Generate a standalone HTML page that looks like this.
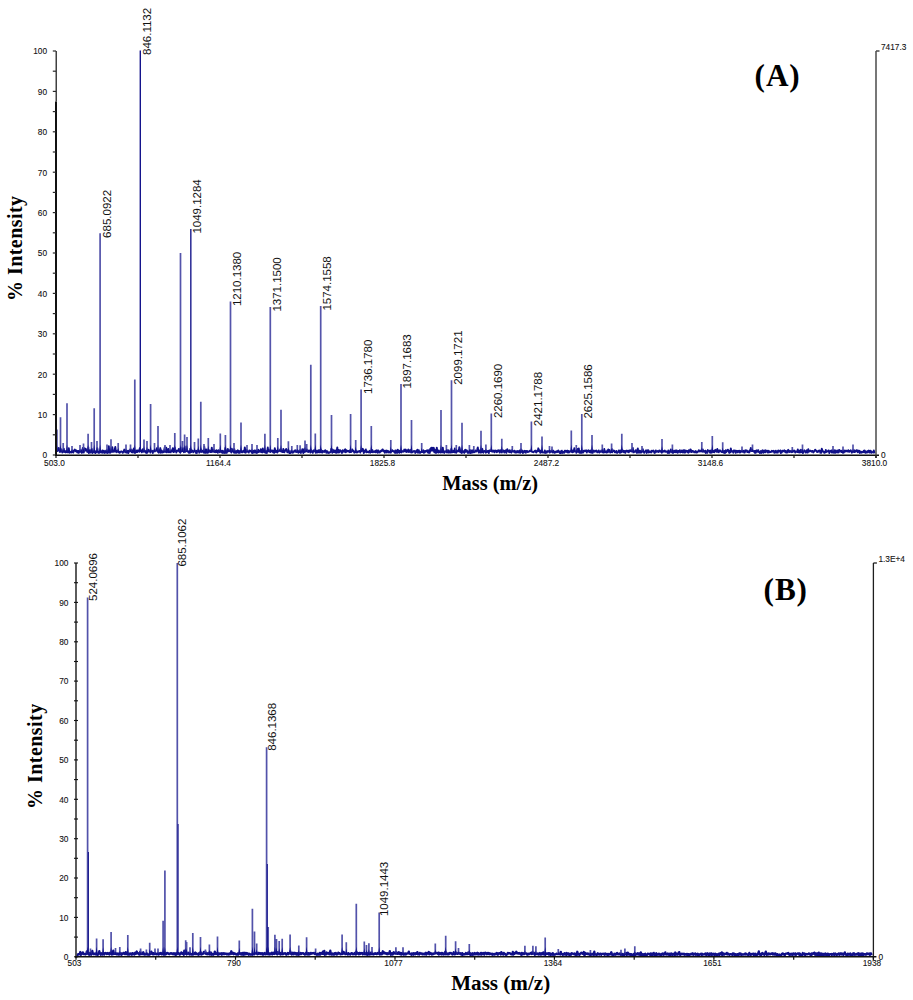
<!DOCTYPE html>
<html><head><meta charset="utf-8"><style>
html,body{margin:0;padding:0;background:#fff;}
body{width:913px;height:1000px;overflow:hidden;}
svg{display:block;}
.tk{font-family:"Liberation Sans",sans-serif;font-size:8.3px;fill:#111;stroke:#111;stroke-width:0.1px;}
.pl{font-family:"Liberation Sans",sans-serif;font-size:11.5px;fill:#111;}
.tt{font-family:"Liberation Serif",serif;font-size:31.2px;font-weight:bold;fill:#000;letter-spacing:0.9px;}
.ax{font-family:"Liberation Serif",serif;font-size:20px;font-weight:bold;fill:#000;}
</style></head><body>
<svg width="913" height="1000" viewBox="0 0 913 1000">
<rect width="913" height="1000" fill="#fff"/>
<path d="M56.80 451.11 L57.30 449.15 L57.80 448.45 L58.30 450.30 L58.80 447.91 L59.30 450.73 L59.80 451.96 L60.30 451.82 L60.80 448.93 L61.30 451.01 L61.80 450.53 L62.30 452.49 L62.80 451.83 L63.30 451.24 L63.80 448.65 L64.30 452.11 L64.80 451.08 L65.30 451.47 L65.80 452.42 L66.30 450.88 L66.80 451.67 L67.30 452.24 L67.80 450.48 L68.30 452.32 L68.80 448.23 L69.30 452.34 L69.80 452.65 L70.30 452.15 L70.80 451.82 L71.30 452.55 L71.80 451.53 L72.30 450.37 L72.80 452.01 L73.30 452.50 L73.80 451.28 L74.30 450.26 L74.80 449.46 L75.30 450.48 L75.80 451.29 L76.30 450.43 L76.80 451.74 L77.30 452.49 L77.80 450.98 L78.30 451.20 L78.80 452.88 L79.30 450.69 L79.80 450.85 L80.30 451.85 L80.80 450.21 L81.30 451.23 L81.80 452.87 L82.30 451.64 L82.80 447.94 L83.30 452.38 L83.80 452.43 L84.30 448.10 L84.80 448.64 L85.30 450.65 L85.80 448.82 L86.30 450.48 L86.80 450.27 L87.30 451.92 L87.80 450.91 L88.30 447.25 L88.80 452.98 L89.30 450.20 L89.80 451.16 L90.30 452.52 L90.80 450.26 L91.30 451.68 L91.80 448.87 L92.30 452.94 L92.80 452.15 L93.30 451.23 L93.80 452.36 L94.30 452.38 L94.80 450.82 L95.30 452.96 L95.80 452.46 L96.30 452.27 L96.80 451.65 L97.30 448.30 L97.80 450.93 L98.30 452.88 L98.80 452.82 L99.30 452.87 L99.80 450.82 L100.30 450.75 L100.80 451.95 L101.30 452.55 L101.80 452.03 L102.30 450.44 L102.80 452.75 L103.30 452.30 L103.80 450.70 L104.30 451.13 L104.80 452.92 L105.30 451.32 L105.80 452.23 L106.30 450.56 L106.80 452.73 L107.30 450.61 L107.80 452.94 L108.30 451.18 L108.80 446.17 L109.30 452.02 L109.80 452.81 L110.30 452.64 L110.80 450.79 L111.30 451.02 L111.80 451.84 L112.30 447.19 L112.80 451.19 L113.30 451.83 L113.80 451.38 L114.30 451.60 L114.80 449.13 L115.30 446.92 L115.80 450.68 L116.30 452.23 L116.80 451.11 L117.30 451.76 L117.80 450.50 L118.30 450.90 L118.80 452.36 L119.30 451.77 L119.80 452.75 L120.30 451.92 L120.80 451.63 L121.30 451.47 L121.80 451.54 L122.30 452.16 L122.80 452.84 L123.30 451.77 L123.80 451.13 L124.30 449.60 L124.80 450.40 L125.30 452.40 L125.80 450.63 L126.30 452.05 L126.80 452.67 L127.30 450.81 L127.80 451.32 L128.30 452.97 L128.80 450.65 L129.30 451.64 L129.80 450.75 L130.30 449.28 L130.80 449.27 L131.30 451.95 L131.80 450.38 L132.30 452.41 L132.80 450.49 L133.30 450.31 L133.80 448.48 L134.30 452.75 L134.80 450.92 L135.30 452.77 L135.80 450.96 L136.30 452.13 L136.80 450.40 L137.30 451.98 L137.80 450.43 L138.30 450.39 L138.80 451.47 L139.30 451.75 L139.80 448.11 L140.30 449.30 L140.80 450.34 L141.30 451.07 L141.80 452.33 L142.30 451.60 L142.80 449.30 L143.30 450.24 L143.80 451.74 L144.30 451.53 L144.80 450.50 L145.30 451.41 L145.80 452.54 L146.30 451.62 L146.80 452.95 L147.30 452.53 L147.80 451.98 L148.30 449.72 L148.80 450.40 L149.30 450.92 L149.80 450.44 L150.30 452.64 L150.80 450.99 L151.30 451.02 L151.80 450.64 L152.30 450.94 L152.80 452.92 L153.30 450.88 L153.80 451.07 L154.30 450.20 L154.80 451.53 L155.30 450.76 L155.80 450.21 L156.30 450.45 L156.80 448.25 L157.30 450.85 L157.80 451.68 L158.30 452.04 L158.80 452.66 L159.30 451.11 L159.80 450.62 L160.30 448.08 L160.80 452.70 L161.30 452.25 L161.80 450.59 L162.30 451.61 L162.80 452.45 L163.30 451.84 L163.80 452.11 L164.30 449.38 L164.80 447.28 L165.30 451.76 L165.80 451.95 L166.30 447.78 L166.80 452.30 L167.30 451.70 L167.80 450.38 L168.30 448.98 L168.80 452.24 L169.30 452.27 L169.80 451.58 L170.30 451.54 L170.80 452.35 L171.30 450.48 L171.80 450.91 L172.30 451.05 L172.80 448.29 L173.30 452.08 L173.80 452.09 L174.30 451.65 L174.80 447.38 L175.30 450.76 L175.80 450.22 L176.30 452.50 L176.80 451.46 L177.30 450.79 L177.80 450.79 L178.30 450.60 L178.80 449.00 L179.30 451.62 L179.80 452.17 L180.30 452.71 L180.80 447.55 L181.30 451.46 L181.80 450.59 L182.30 451.09 L182.80 450.20 L183.30 448.31 L183.80 452.20 L184.30 451.01 L184.80 451.30 L185.30 451.85 L185.80 451.40 L186.30 446.41 L186.80 451.00 L187.30 450.90 L187.80 451.63 L188.30 451.25 L188.80 452.68 L189.30 451.97 L189.80 452.83 L190.30 448.65 L190.80 451.46 L191.30 452.00 L191.80 450.34 L192.30 450.56 L192.80 451.16 L193.30 452.27 L193.80 450.93 L194.30 451.04 L194.80 451.30 L195.30 450.65 L195.80 452.74 L196.30 450.82 L196.80 452.99 L197.30 450.59 L197.80 450.45 L198.30 450.46 L198.80 450.92 L199.30 452.68 L199.80 451.36 L200.30 451.67 L200.80 449.18 L201.30 450.15 L201.80 451.96 L202.30 450.80 L202.80 450.90 L203.30 451.45 L203.80 452.58 L204.30 446.78 L204.80 452.71 L205.30 449.47 L205.80 452.80 L206.30 452.60 L206.80 449.36 L207.30 451.66 L207.80 452.84 L208.30 452.01 L208.80 451.48 L209.30 450.31 L209.80 450.85 L210.30 452.01 L210.80 450.56 L211.30 451.98 L211.80 447.68 L212.30 451.83 L212.80 450.83 L213.30 450.23 L213.80 451.49 L214.30 452.00 L214.80 451.53 L215.30 450.89 L215.80 452.17 L216.30 450.26 L216.80 452.09 L217.30 450.92 L217.80 452.79 L218.30 450.30 L218.80 451.38 L219.30 450.75 L219.80 452.27 L220.30 450.77 L220.80 451.07 L221.30 450.85 L221.80 452.33 L222.30 452.87 L222.80 450.72 L223.30 451.37 L223.80 452.86 L224.30 451.30 L224.80 452.93 L225.30 447.97 L225.80 452.71 L226.30 452.25 L226.80 452.81 L227.30 450.72 L227.80 448.96 L228.30 451.26 L228.80 451.13 L229.30 450.21 L229.80 451.18 L230.30 450.55 L230.80 450.78 L231.30 452.50 L231.80 448.75 L232.30 451.24 L232.80 450.74 L233.30 450.27 L233.80 452.47 L234.30 449.09 L234.80 452.78 L235.30 452.29 L235.80 451.15 L236.30 452.88 L236.80 450.93 L237.30 451.09 L237.80 450.21 L238.30 452.77 L238.80 451.02 L239.30 451.53 L239.80 452.87 L240.30 450.90 L240.80 451.58 L241.30 450.71 L241.80 452.27 L242.30 452.36 L242.80 451.12 L243.30 451.21 L243.80 450.42 L244.30 452.31 L244.80 447.45 L245.30 451.11 L245.80 452.67 L246.30 449.60 L246.80 451.60 L247.30 451.45 L247.80 451.37 L248.30 452.09 L248.80 452.57 L249.30 450.54 L249.80 451.02 L250.30 451.24 L250.80 450.76 L251.30 450.89 L251.80 452.68 L252.30 451.11 L252.80 452.98 L253.30 450.85 L253.80 452.03 L254.30 450.49 L254.80 452.49 L255.30 450.73 L255.80 450.53 L256.30 452.92 L256.80 452.80 L257.30 452.63 L257.80 450.93 L258.30 449.76 L258.80 451.94 L259.30 451.23 L259.80 450.77 L260.30 451.88 L260.80 449.09 L261.30 452.10 L261.80 451.07 L262.30 452.43 L262.80 448.51 L263.30 451.74 L263.80 450.46 L264.30 452.15 L264.80 450.99 L265.30 452.87 L265.80 451.79 L266.30 451.37 L266.80 452.99 L267.30 450.75 L267.80 447.54 L268.30 451.39 L268.80 451.34 L269.30 451.49 L269.80 450.24 L270.30 451.99 L270.80 450.45 L271.30 451.24 L271.80 450.61 L272.30 451.66 L272.80 450.50 L273.30 452.45 L273.80 450.75 L274.30 452.84 L274.80 448.25 L275.30 451.29 L275.80 451.94 L276.30 450.65 L276.80 450.82 L277.30 452.57 L277.80 450.71 L278.30 451.32 L278.80 451.27 L279.30 450.89 L279.80 450.39 L280.30 449.26 L280.80 450.53 L281.30 451.74 L281.80 451.06 L282.30 451.83 L282.80 452.04 L283.30 448.96 L283.80 451.57 L284.30 452.34 L284.80 451.48 L285.30 450.38 L285.80 449.41 L286.30 449.11 L286.80 450.43 L287.30 452.38 L287.80 450.35 L288.30 451.26 L288.80 450.58 L289.30 452.99 L289.80 452.48 L290.30 452.95 L290.80 452.88 L291.30 450.66 L291.80 451.06 L292.30 452.32 L292.80 452.71 L293.30 452.48 L293.80 451.61 L294.30 450.78 L294.80 451.62 L295.30 450.30 L295.80 450.65 L296.30 452.10 L296.80 450.67 L297.30 450.52 L297.80 451.98 L298.30 452.64 L298.80 451.82 L299.30 450.49 L299.80 451.96 L300.30 452.43 L300.80 452.97 L301.30 451.21 L301.80 451.44 L302.30 449.27 L302.80 450.91 L303.30 452.96 L303.80 452.06 L304.30 449.00 L304.80 451.92 L305.30 451.64 L305.80 450.57 L306.30 451.22 L306.80 449.43 L307.30 450.83 L307.80 451.85 L308.30 451.95 L308.80 450.58 L309.30 450.88 L309.80 450.47 L310.30 452.64 L310.80 451.33 L311.30 450.23 L311.80 451.77 L312.30 452.01 L312.80 452.82 L313.30 450.90 L313.80 450.32 L314.30 451.34 L314.80 450.36 L315.30 450.23 L315.80 452.83 L316.30 450.76 L316.80 451.62 L317.30 452.48 L317.80 451.07 L318.30 450.34 L318.80 452.39 L319.30 450.22 L319.80 452.29 L320.30 452.28 L320.80 449.41 L321.30 450.31 L321.80 452.30 L322.30 452.57 L322.80 450.94 L323.30 451.42 L323.80 451.67 L324.30 452.00 L324.80 450.81 L325.30 450.24 L325.80 450.86 L326.30 452.85 L326.80 451.12 L327.30 451.12 L327.80 452.74 L328.30 452.14 L328.80 452.94 L329.30 452.55 L329.80 452.60 L330.30 452.23 L330.80 451.06 L331.30 448.68 L331.80 449.52 L332.30 452.80 L332.80 449.68 L333.30 452.14 L333.80 452.15 L334.30 450.38 L334.80 451.22 L335.30 452.49 L335.80 450.38 L336.30 452.76 L336.80 450.50 L337.30 447.42 L337.80 452.47 L338.30 452.51 L338.80 449.94 L339.30 452.32 L339.80 451.09 L340.30 450.26 L340.80 450.99 L341.30 451.23 L341.80 452.90 L342.30 452.58 L342.80 450.29 L343.30 451.42 L343.80 451.17 L344.30 451.71 L344.80 449.60 L345.30 449.33 L345.80 452.33 L346.30 450.21 L346.80 451.58 L347.30 450.72 L347.80 451.17 L348.30 450.93 L348.80 450.99 L349.30 452.16 L349.80 450.51 L350.30 450.43 L350.80 452.15 L351.30 451.96 L351.80 451.32 L352.30 449.49 L352.80 450.27 L353.30 450.94 L353.80 451.60 L354.30 452.68 L354.80 451.49 L355.30 452.31 L355.80 452.01 L356.30 451.11 L356.80 452.56 L357.30 452.28 L357.80 451.43 L358.30 451.82 L358.80 451.49 L359.30 450.87 L359.80 451.04 L360.30 452.56 L360.80 450.64 L361.30 451.11 L361.80 450.65 L362.30 450.73 L362.80 448.84 L363.30 450.48 L363.80 452.95 L364.30 452.25 L364.80 450.75 L365.30 450.50 L365.80 449.41 L366.30 452.41 L366.80 451.60 L367.30 451.50 L367.80 451.89 L368.30 452.27 L368.80 451.40 L369.30 452.30 L369.80 450.84 L370.30 452.66 L370.80 452.16 L371.30 452.10 L371.80 451.47 L372.30 450.03 L372.80 452.39 L373.30 451.96 L373.80 451.39 L374.30 451.94 L374.80 452.09 L375.30 450.71 L375.80 452.38 L376.30 451.57 L376.80 450.31 L377.30 450.65 L377.80 452.83 L378.30 450.48 L378.80 451.71 L379.30 451.63 L379.80 452.52 L380.30 451.35 L380.80 450.79 L381.30 451.30 L381.80 450.54 L382.30 449.65 L382.80 449.39 L383.30 451.38 L383.80 451.19 L384.30 450.83 L384.80 452.83 L385.30 450.81 L385.80 451.30 L386.30 450.56 L386.80 452.47 L387.30 451.51 L387.80 450.83 L388.30 451.19 L388.80 452.49 L389.30 451.51 L389.80 451.74 L390.30 452.53 L390.80 452.58 L391.30 451.25 L391.80 451.39 L392.30 450.21 L392.80 450.99 L393.30 451.05 L393.80 451.40 L394.30 452.05 L394.80 452.80 L395.30 450.36 L395.80 452.74 L396.30 450.59 L396.80 451.14 L397.30 452.86 L397.80 449.71 L398.30 450.85 L398.80 451.17 L399.30 452.73 L399.80 450.67 L400.30 451.90 L400.80 452.07 L401.30 452.41 L401.80 450.75 L402.30 451.69 L402.80 451.43 L403.30 451.75 L403.80 450.86 L404.30 449.52 L404.80 450.60 L405.30 451.59 L405.80 449.55 L406.30 451.51 L406.80 452.06 L407.30 451.25 L407.80 450.37 L408.30 449.54 L408.80 452.11 L409.30 451.13 L409.80 451.63 L410.30 449.97 L410.80 451.95 L411.30 452.61 L411.80 451.53 L412.30 452.36 L412.80 451.42 L413.30 451.75 L413.80 451.02 L414.30 451.33 L414.80 450.96 L415.30 452.93 L415.80 452.42 L416.30 451.09 L416.80 451.84 L417.30 449.64 L417.80 452.68 L418.30 450.34 L418.80 450.22 L419.30 452.78 L419.80 452.04 L420.30 452.75 L420.80 451.93 L421.30 452.15 L421.80 452.11 L422.30 452.07 L422.80 451.05 L423.30 450.30 L423.80 452.76 L424.30 451.23 L424.80 452.40 L425.30 450.92 L425.80 451.38 L426.30 451.41 L426.80 450.48 L427.30 450.31 L427.80 452.47 L428.30 452.77 L428.80 450.24 L429.30 451.86 L429.80 452.95 L430.30 448.81 L430.80 450.79 L431.30 447.60 L431.80 450.54 L432.30 450.45 L432.80 447.82 L433.30 450.88 L433.80 447.83 L434.30 452.20 L434.80 449.75 L435.30 452.19 L435.80 452.81 L436.30 452.90 L436.80 447.68 L437.30 450.85 L437.80 452.24 L438.30 452.61 L438.80 450.37 L439.30 451.81 L439.80 452.10 L440.30 452.43 L440.80 452.01 L441.30 451.37 L441.80 452.40 L442.30 452.40 L442.80 447.59 L443.30 452.17 L443.80 451.13 L444.30 452.94 L444.80 451.88 L445.30 451.40 L445.80 451.25 L446.30 451.88 L446.80 452.46 L447.30 450.20 L447.80 451.38 L448.30 452.48 L448.80 450.32 L449.30 452.47 L449.80 451.80 L450.30 452.58 L450.80 452.12 L451.30 448.88 L451.80 452.43 L452.30 452.30 L452.80 450.86 L453.30 452.10 L453.80 450.78 L454.30 452.30 L454.80 448.51 L455.30 452.36 L455.80 451.82 L456.30 452.68 L456.80 451.53 L457.30 450.73 L457.80 450.71 L458.30 451.22 L458.80 451.33 L459.30 447.12 L459.80 448.74 L460.30 452.40 L460.80 451.87 L461.30 450.76 L461.80 452.97 L462.30 451.56 L462.80 450.93 L463.30 451.39 L463.80 452.35 L464.30 452.90 L464.80 450.31 L465.30 449.77 L465.80 451.76 L466.30 451.48 L466.80 450.33 L467.30 451.31 L467.80 452.89 L468.30 451.78 L468.80 452.88 L469.30 451.30 L469.80 450.65 L470.30 452.98 L470.80 450.31 L471.30 451.19 L471.80 452.73 L472.30 450.33 L472.80 452.19 L473.30 451.77 L473.80 452.31 L474.30 452.10 L474.80 451.86 L475.30 450.50 L475.80 450.92 L476.30 451.55 L476.80 450.87 L477.30 449.36 L477.80 447.44 L478.30 450.82 L478.80 452.63 L479.30 450.59 L479.80 450.47 L480.30 452.56 L480.80 451.47 L481.30 452.50 L481.80 451.96 L482.30 448.82 L482.80 451.75 L483.30 452.64 L483.80 451.35 L484.30 450.96 L484.80 451.14 L485.30 451.57 L485.80 452.73 L486.30 450.56 L486.80 452.07 L487.30 451.54 L487.80 450.92 L488.30 451.22 L488.80 452.99 L489.30 450.47 L489.80 450.68 L490.30 451.02 L490.80 450.24 L491.30 451.15 L491.80 450.21 L492.30 451.67 L492.80 451.42 L493.30 450.81 L493.80 450.59 L494.30 452.36 L494.80 450.75 L495.30 450.44 L495.80 451.59 L496.30 450.78 L496.80 452.18 L497.30 451.83 L497.80 450.38 L498.30 451.34 L498.80 450.36 L499.30 451.14 L499.80 452.62 L500.30 450.24 L500.80 451.53 L501.30 450.95 L501.80 452.53 L502.30 450.66 L502.80 450.27 L503.30 451.45 L503.80 450.54 L504.30 452.49 L504.80 451.10 L505.30 451.27 L505.80 450.37 L506.30 452.87 L506.80 451.64 L507.30 449.17 L507.80 450.83 L508.30 450.49 L508.80 451.79 L509.30 452.16 L509.80 450.25 L510.30 451.81 L510.80 452.17 L511.30 452.63 L511.80 450.33 L512.30 451.58 L512.80 450.98 L513.30 451.34 L513.80 451.86 L514.30 450.61 L514.80 452.29 L515.30 452.51 L515.80 451.29 L516.30 452.55 L516.80 451.31 L517.30 452.38 L517.80 450.87 L518.30 451.42 L518.80 452.45 L519.30 452.48 L519.80 450.35 L520.30 452.88 L520.80 450.90 L521.30 451.97 L521.80 450.28 L522.30 450.82 L522.80 452.92 L523.30 452.82 L523.80 452.47 L524.30 450.83 L524.80 450.94 L525.30 450.97 L525.80 452.79 L526.30 450.90 L526.80 451.41 L527.30 451.01 L527.80 452.01 L528.30 451.86 L528.80 451.64 L529.30 451.51 L529.80 450.62 L530.30 450.57 L530.80 451.34 L531.30 450.88 L531.80 451.73 L532.30 451.91 L532.80 452.02 L533.30 452.19 L533.80 451.73 L534.30 451.51 L534.80 450.88 L535.30 451.63 L535.80 450.60 L536.30 452.61 L536.80 451.76 L537.30 451.00 L537.80 451.03 L538.30 448.31 L538.80 450.12 L539.30 451.43 L539.80 450.51 L540.30 452.89 L540.80 450.63 L541.30 451.19 L541.80 451.93 L542.30 452.50 L542.80 452.27 L543.30 452.33 L543.80 452.40 L544.30 452.76 L544.80 450.53 L545.30 451.84 L545.80 452.90 L546.30 451.37 L546.80 452.64 L547.30 451.26 L547.80 451.48 L548.30 451.02 L548.80 451.75 L549.30 451.10 L549.80 452.58 L550.30 451.44 L550.80 451.05 L551.30 451.81 L551.80 450.45 L552.30 451.11 L552.80 452.55 L553.30 450.77 L553.80 452.15 L554.30 451.78 L554.80 452.78 L555.30 451.71 L555.80 451.65 L556.30 452.12 L556.80 451.20 L557.30 451.18 L557.80 452.09 L558.30 450.48 L558.80 451.32 L559.30 451.81 L559.80 452.90 L560.30 451.43 L560.80 452.99 L561.30 451.68 L561.80 450.68 L562.30 452.94 L562.80 451.64 L563.30 452.70 L563.80 452.50 L564.30 452.69 L564.80 450.64 L565.30 451.63 L565.80 450.73 L566.30 451.96 L566.80 451.19 L567.30 450.62 L567.80 452.41 L568.30 450.99 L568.80 452.56 L569.30 452.07 L569.80 451.59 L570.30 450.94 L570.80 451.69 L571.30 451.81 L571.80 450.54 L572.30 452.33 L572.80 450.48 L573.30 451.66 L573.80 451.92 L574.30 448.26 L574.80 451.10 L575.30 451.19 L575.80 450.95 L576.30 452.73 L576.80 451.18 L577.30 448.91 L577.80 451.83 L578.30 451.43 L578.80 448.44 L579.30 452.59 L579.80 452.72 L580.30 451.05 L580.80 452.89 L581.30 452.86 L581.80 451.29 L582.30 450.82 L582.80 452.65 L583.30 452.42 L583.80 450.69 L584.30 450.72 L584.80 451.01 L585.30 450.52 L585.80 451.28 L586.30 450.38 L586.80 452.51 L587.30 450.89 L587.80 450.99 L588.30 450.30 L588.80 451.16 L589.30 452.18 L589.80 450.96 L590.30 450.56 L590.80 452.54 L591.30 450.65 L591.80 452.22 L592.30 452.88 L592.80 452.86 L593.30 450.84 L593.80 450.57 L594.30 450.93 L594.80 451.85 L595.30 450.89 L595.80 450.80 L596.30 450.54 L596.80 451.72 L597.30 452.36 L597.80 452.04 L598.30 451.07 L598.80 450.44 L599.30 452.58 L599.80 452.06 L600.30 451.77 L600.80 451.60 L601.30 450.38 L601.80 450.83 L602.30 452.21 L602.80 451.33 L603.30 452.37 L603.80 452.61 L604.30 449.05 L604.80 452.06 L605.30 451.36 L605.80 452.16 L606.30 452.57 L606.80 451.96 L607.30 450.52 L607.80 452.26 L608.30 449.47 L608.80 450.75 L609.30 450.11 L609.80 451.99 L610.30 452.55 L610.80 452.21 L611.30 451.42 L611.80 448.93 L612.30 452.37 L612.80 450.32 L613.30 450.89 L613.80 450.51 L614.30 450.79 L614.80 452.30 L615.30 452.15 L615.80 452.29 L616.30 450.99 L616.80 452.85 L617.30 452.80 L617.80 452.27 L618.30 451.96 L618.80 450.35 L619.30 451.40 L619.80 452.80 L620.30 450.36 L620.80 452.46 L621.30 451.73 L621.80 451.99 L622.30 449.65 L622.80 451.35 L623.30 451.07 L623.80 452.18 L624.30 450.87 L624.80 451.64 L625.30 452.82 L625.80 451.04 L626.30 450.60 L626.80 451.13 L627.30 451.74 L627.80 450.67 L628.30 451.88 L628.80 452.35 L629.30 450.52 L629.80 451.21 L630.30 450.37 L630.80 450.75 L631.30 451.45 L631.80 451.11 L632.30 451.22 L632.80 447.82 L633.30 452.30 L633.80 452.21 L634.30 451.78 L634.80 451.57 L635.30 450.73 L635.80 450.22 L636.30 452.00 L636.80 452.82 L637.30 450.90 L637.80 448.46 L638.30 452.55 L638.80 450.72 L639.30 452.57 L639.80 450.67 L640.30 452.53 L640.80 451.11 L641.30 452.51 L641.80 451.23 L642.30 451.23 L642.80 449.18 L643.30 451.96 L643.80 452.18 L644.30 452.85 L644.80 451.60 L645.30 451.04 L645.80 450.42 L646.30 450.66 L646.80 452.92 L647.30 450.31 L647.80 450.73 L648.30 450.21 L648.80 452.59 L649.30 451.39 L649.80 452.05 L650.30 451.38 L650.80 451.43 L651.30 452.51 L651.80 450.66 L652.30 451.44 L652.80 451.17 L653.30 450.44 L653.80 451.49 L654.30 452.74 L654.80 452.93 L655.30 451.94 L655.80 450.37 L656.30 451.91 L656.80 451.80 L657.30 451.55 L657.80 451.04 L658.30 451.78 L658.80 452.10 L659.30 450.44 L659.80 451.24 L660.30 451.37 L660.80 451.78 L661.30 450.52 L661.80 452.69 L662.30 450.51 L662.80 450.91 L663.30 451.69 L663.80 451.57 L664.30 450.83 L664.80 450.52 L665.30 451.85 L665.80 451.34 L666.30 451.43 L666.80 451.74 L667.30 452.32 L667.80 452.97 L668.30 450.49 L668.80 451.30 L669.30 452.89 L669.80 452.37 L670.30 451.38 L670.80 449.49 L671.30 450.80 L671.80 452.18 L672.30 452.69 L672.80 452.64 L673.30 452.77 L673.80 450.67 L674.30 451.16 L674.80 452.11 L675.30 450.54 L675.80 452.26 L676.30 450.45 L676.80 450.48 L677.30 452.45 L677.80 452.79 L678.30 450.91 L678.80 451.45 L679.30 451.83 L679.80 450.26 L680.30 452.44 L680.80 451.75 L681.30 452.12 L681.80 450.60 L682.30 451.71 L682.80 452.46 L683.30 450.24 L683.80 450.62 L684.30 452.64 L684.80 450.30 L685.30 452.49 L685.80 451.30 L686.30 450.64 L686.80 451.30 L687.30 451.91 L687.80 451.12 L688.30 452.70 L688.80 450.32 L689.30 451.21 L689.80 451.82 L690.30 449.47 L690.80 449.67 L691.30 452.16 L691.80 452.08 L692.30 450.97 L692.80 450.93 L693.30 451.68 L693.80 451.30 L694.30 452.36 L694.80 452.37 L695.30 451.98 L695.80 450.99 L696.30 452.64 L696.80 452.11 L697.30 452.34 L697.80 451.62 L698.30 451.18 L698.80 450.13 L699.30 451.10 L699.80 451.55 L700.30 450.88 L700.80 451.18 L701.30 450.22 L701.80 451.47 L702.30 451.79 L702.80 449.54 L703.30 451.06 L703.80 451.74 L704.30 451.15 L704.80 451.83 L705.30 450.70 L705.80 452.96 L706.30 452.37 L706.80 451.11 L707.30 452.72 L707.80 450.08 L708.30 450.95 L708.80 450.81 L709.30 450.76 L709.80 452.62 L710.30 450.75 L710.80 452.90 L711.30 450.42 L711.80 452.65 L712.30 450.58 L712.80 451.70 L713.30 451.99 L713.80 450.79 L714.30 452.30 L714.80 451.33 L715.30 449.78 L715.80 450.33 L716.30 451.14 L716.80 451.87 L717.30 449.05 L717.80 451.78 L718.30 450.36 L718.80 452.23 L719.30 450.46 L719.80 450.60 L720.30 450.45 L720.80 451.39 L721.30 451.85 L721.80 452.04 L722.30 451.13 L722.80 450.92 L723.30 452.34 L723.80 451.07 L724.30 452.94 L724.80 450.98 L725.30 452.83 L725.80 450.23 L726.30 452.04 L726.80 451.21 L727.30 450.84 L727.80 449.67 L728.30 450.37 L728.80 451.75 L729.30 452.83 L729.80 450.62 L730.30 452.27 L730.80 448.52 L731.30 450.88 L731.80 451.60 L732.30 451.16 L732.80 451.49 L733.30 452.73 L733.80 450.40 L734.30 451.33 L734.80 450.37 L735.30 451.35 L735.80 452.85 L736.30 450.83 L736.80 450.93 L737.30 450.85 L737.80 452.33 L738.30 451.04 L738.80 450.81 L739.30 450.64 L739.80 452.63 L740.30 452.30 L740.80 450.99 L741.30 451.56 L741.80 450.65 L742.30 451.87 L742.80 451.82 L743.30 450.79 L743.80 451.21 L744.30 452.62 L744.80 452.62 L745.30 450.30 L745.80 450.51 L746.30 450.62 L746.80 450.47 L747.30 452.11 L747.80 451.15 L748.30 452.21 L748.80 451.95 L749.30 452.42 L749.80 450.31 L750.30 450.85 L750.80 447.91 L751.30 451.09 L751.80 450.54 L752.30 450.58 L752.80 450.70 L753.30 450.61 L753.80 451.60 L754.30 451.19 L754.80 452.77 L755.30 450.80 L755.80 452.67 L756.30 450.96 L756.80 450.35 L757.30 451.62 L757.80 451.76 L758.30 450.23 L758.80 452.03 L759.30 451.74 L759.80 452.95 L760.30 452.21 L760.80 451.09 L761.30 452.92 L761.80 451.28 L762.30 450.60 L762.80 450.21 L763.30 452.79 L763.80 451.91 L764.30 450.87 L764.80 450.53 L765.30 452.40 L765.80 450.34 L766.30 451.11 L766.80 451.74 L767.30 450.85 L767.80 452.59 L768.30 451.86 L768.80 450.86 L769.30 452.28 L769.80 452.19 L770.30 451.67 L770.80 452.10 L771.30 451.96 L771.80 450.83 L772.30 450.94 L772.80 451.53 L773.30 451.66 L773.80 450.82 L774.30 452.80 L774.80 451.67 L775.30 452.48 L775.80 450.68 L776.30 451.49 L776.80 452.52 L777.30 451.33 L777.80 452.53 L778.30 450.54 L778.80 450.90 L779.30 451.20 L779.80 451.66 L780.30 450.45 L780.80 452.99 L781.30 451.46 L781.80 452.44 L782.30 450.62 L782.80 451.23 L783.30 450.87 L783.80 451.15 L784.30 450.25 L784.80 450.92 L785.30 452.21 L785.80 451.11 L786.30 452.54 L786.80 451.98 L787.30 450.76 L787.80 452.42 L788.30 449.81 L788.80 451.23 L789.30 451.03 L789.80 452.01 L790.30 451.19 L790.80 451.82 L791.30 450.74 L791.80 452.19 L792.30 452.06 L792.80 450.40 L793.30 451.26 L793.80 451.59 L794.30 450.57 L794.80 451.50 L795.30 452.55 L795.80 451.53 L796.30 451.43 L796.80 451.63 L797.30 452.08 L797.80 449.40 L798.30 451.75 L798.80 452.36 L799.30 450.82 L799.80 452.49 L800.30 450.45 L800.80 449.85 L801.30 452.19 L801.80 450.35 L802.30 451.37 L802.80 452.99 L803.30 452.64 L803.80 451.14 L804.30 450.22 L804.80 450.97 L805.30 451.08 L805.80 452.60 L806.30 451.63 L806.80 450.34 L807.30 452.63 L807.80 452.60 L808.30 449.14 L808.80 451.25 L809.30 451.57 L809.80 451.22 L810.30 450.76 L810.80 450.60 L811.30 451.69 L811.80 451.78 L812.30 450.97 L812.80 451.02 L813.30 452.45 L813.80 451.47 L814.30 451.45 L814.80 450.36 L815.30 449.68 L815.80 450.40 L816.30 450.70 L816.80 451.77 L817.30 451.60 L817.80 452.09 L818.30 450.79 L818.80 450.61 L819.30 450.78 L819.80 450.47 L820.30 452.86 L820.80 452.04 L821.30 452.74 L821.80 448.67 L822.30 450.32 L822.80 451.02 L823.30 451.83 L823.80 451.77 L824.30 452.75 L824.80 452.56 L825.30 452.44 L825.80 450.00 L826.30 451.99 L826.80 451.73 L827.30 451.50 L827.80 451.40 L828.30 450.52 L828.80 450.54 L829.30 452.99 L829.80 451.67 L830.30 451.17 L830.80 451.59 L831.30 450.46 L831.80 452.62 L832.30 451.71 L832.80 450.59 L833.30 452.70 L833.80 450.84 L834.30 450.29 L834.80 452.91 L835.30 452.84 L835.80 450.34 L836.30 451.46 L836.80 452.28 L837.30 452.41 L837.80 450.39 L838.30 450.47 L838.80 452.41 L839.30 449.91 L839.80 450.47 L840.30 450.57 L840.80 451.19 L841.30 452.06 L841.80 450.68 L842.30 451.13 L842.80 452.65 L843.30 450.62 L843.80 452.66 L844.30 451.59 L844.80 450.53 L845.30 450.66 L845.80 451.62 L846.30 450.75 L846.80 450.77 L847.30 450.87 L847.80 451.61 L848.30 450.24 L848.80 451.57 L849.30 451.80 L849.80 450.84 L850.30 450.63 L850.80 450.29 L851.30 451.65 L851.80 452.69 L852.30 451.82 L852.80 451.87 L853.30 451.17 L853.80 451.88 L854.30 450.32 L854.80 452.14 L855.30 451.16 L855.80 451.49 L856.30 450.23 L856.80 451.35 L857.30 450.45 L857.80 452.25 L858.30 450.62 L858.80 450.59 L859.30 450.82 L859.80 452.93 L860.30 452.42 L860.80 451.59 L861.30 452.74 L861.80 451.98 L862.30 451.95 L862.80 452.40 L863.30 452.21 L863.80 450.65 L864.30 452.08 L864.80 450.58 L865.30 452.82 L865.80 452.29 L866.30 452.45 L866.80 451.42 L867.30 452.40 L867.80 451.04 L868.30 451.69 L868.80 450.52 L869.30 452.40 L869.80 452.55 L870.30 450.75 L870.80 450.86 L871.30 452.74 L871.80 452.19 L872.30 452.39 L872.80 452.11 L873.30 452.51 L873.80 450.44 L874.30 452.54 L874.80 451.87" fill="none" stroke="#0f0f88" stroke-width="1.9" stroke-linejoin="round"/>
<path d="M100.10 451.60 V233.30 M230.50 451.60 V301.50 M270.30 451.60 V307.00 M320.70 451.60 V306.00 M361.10 451.60 V389.40 M401.00 451.60 V384.00 M451.50 451.60 V380.20 M491.30 451.60 V413.50 M531.40 451.60 V421.60 M581.80 451.60 V414.00 M56.90 451.60 V429.60 M60.50 451.60 V417.20 M63.20 451.60 V443.00 M67.00 451.60 V403.30 M72.00 451.60 V446.00 M80.00 451.60 V445.00 M83.50 451.60 V443.50 M88.10 451.60 V433.70 M91.50 451.60 V442.00 M94.20 451.60 V408.20 M97.00 451.60 V441.00 M107.00 451.60 V444.50 M111.00 451.60 V439.20 M118.20 451.60 V443.00 M126.00 451.60 V444.50 M130.50 451.60 V444.50 M134.80 451.60 V379.50 M144.00 451.60 V439.40 M147.00 451.60 V441.00 M150.60 451.60 V404.00 M154.50 451.60 V443.00 M158.00 451.60 V426.00 M165.00 451.60 V445.00 M170.00 451.60 V445.00 M174.80 451.60 V433.00 M180.50 451.60 V253.00 M182.50 451.60 V441.00 M184.60 451.60 V434.50 M187.00 451.60 V437.00 M194.50 451.60 V442.00 M198.30 451.60 V438.60 M200.80 451.60 V401.70 M204.00 451.60 V444.00 M208.30 451.60 V438.00 M214.00 451.60 V444.00 M220.30 451.60 V433.50 M225.40 451.60 V435.00 M234.00 451.60 V443.00 M241.00 451.60 V422.40 M247.00 451.60 V445.00 M252.00 451.60 V444.00 M257.00 451.60 V445.00 M264.90 451.60 V433.80 M277.80 451.60 V438.00 M281.00 451.60 V409.80 M288.40 451.60 V441.20 M291.80 451.60 V446.00 M297.30 451.60 V445.00 M300.10 451.60 V445.20 M305.00 451.60 V440.50 M306.70 451.60 V444.00 M310.80 451.60 V364.80 M315.30 451.60 V433.50 M331.50 451.60 V415.00 M350.60 451.60 V414.00 M355.70 451.60 V440.00 M371.30 451.60 V426.00 M390.80 451.60 V440.00 M411.50 451.60 V420.00 M421.70 451.60 V443.00 M441.00 451.60 V410.00 M446.40 451.60 V445.00 M456.30 451.60 V445.00 M462.00 451.60 V422.70 M469.40 451.60 V445.00 M473.80 451.60 V446.00 M481.00 451.60 V430.80 M485.90 451.60 V444.50 M501.80 451.60 V438.70 M512.30 451.60 V446.00 M521.00 451.60 V443.00 M542.00 451.60 V436.50 M549.50 451.60 V446.00 M552.00 451.60 V446.50 M571.30 451.60 V430.60 M576.30 451.60 V445.00 M592.00 451.60 V435.00 M602.30 451.60 V444.50 M611.60 451.60 V443.50 M621.80 451.60 V433.70 M632.00 451.60 V443.00 M642.00 451.60 V446.00 M662.00 451.60 V439.00 M672.40 451.60 V444.40 M701.80 451.60 V442.00 M712.30 451.60 V436.00 M722.70 451.60 V442.30 M742.00 451.60 V446.50 M752.50 451.60 V444.40 M792.30 451.60 V447.00 M802.50 451.60 V444.50 M833.00 451.60 V446.00 M843.00 451.60 V446.50 M853.00 451.60 V444.50" fill="none" stroke="#5454ab" stroke-width="1.7"/>
<path d="M140.30 451.60 V50.40" fill="none" stroke="#14148c" stroke-width="1.4"/>
<path d="M190.80 451.60 V229.00" fill="none" stroke="#35359a" stroke-width="1.6"/>
<path d="M99.00 452.10 L100.10 444.60 L101.20 452.10 Z M139.20 452.10 L140.30 444.60 L141.40 452.10 Z M189.70 452.10 L190.80 444.60 L191.90 452.10 Z M229.40 452.10 L230.50 444.60 L231.60 452.10 Z M269.20 452.10 L270.30 444.60 L271.40 452.10 Z M319.60 452.10 L320.70 444.60 L321.80 452.10 Z M360.00 452.10 L361.10 444.60 L362.20 452.10 Z M399.90 452.10 L401.00 444.60 L402.10 452.10 Z M450.40 452.10 L451.50 444.60 L452.60 452.10 Z M490.20 452.10 L491.30 444.60 L492.40 452.10 Z M530.30 452.10 L531.40 444.60 L532.50 452.10 Z M580.70 452.10 L581.80 444.60 L582.90 452.10 Z M55.80 452.10 L56.90 444.60 L58.00 452.10 Z M59.40 452.10 L60.50 444.60 L61.60 452.10 Z M62.10 452.10 L63.20 447.73 L64.30 452.10 Z M65.90 452.10 L67.00 444.60 L68.10 452.10 Z M70.90 452.10 L72.00 449.08 L73.10 452.10 Z M78.90 452.10 L80.00 448.63 L81.10 452.10 Z M82.40 452.10 L83.50 447.96 L84.60 452.10 Z M87.00 452.10 L88.10 444.60 L89.20 452.10 Z M90.40 452.10 L91.50 447.28 L92.60 452.10 Z M93.10 452.10 L94.20 444.60 L95.30 452.10 Z M95.90 452.10 L97.00 446.83 L98.10 452.10 Z M105.90 452.10 L107.00 448.41 L108.10 452.10 Z M109.90 452.10 L111.00 446.02 L112.10 452.10 Z M117.10 452.10 L118.20 447.73 L119.30 452.10 Z M124.90 452.10 L126.00 448.41 L127.10 452.10 Z M129.40 452.10 L130.50 448.41 L131.60 452.10 Z M133.70 452.10 L134.80 444.60 L135.90 452.10 Z M142.90 452.10 L144.00 446.11 L145.10 452.10 Z M145.90 452.10 L147.00 446.83 L148.10 452.10 Z M149.50 452.10 L150.60 444.60 L151.70 452.10 Z M153.40 452.10 L154.50 447.73 L155.60 452.10 Z M156.90 452.10 L158.00 444.60 L159.10 452.10 Z M163.90 452.10 L165.00 448.63 L166.10 452.10 Z M168.90 452.10 L170.00 448.63 L171.10 452.10 Z M173.70 452.10 L174.80 444.60 L175.90 452.10 Z M179.40 452.10 L180.50 444.60 L181.60 452.10 Z M181.40 452.10 L182.50 446.83 L183.60 452.10 Z M183.50 452.10 L184.60 444.60 L185.70 452.10 Z M185.90 452.10 L187.00 445.03 L188.10 452.10 Z M193.40 452.10 L194.50 447.28 L195.60 452.10 Z M197.20 452.10 L198.30 445.75 L199.40 452.10 Z M199.70 452.10 L200.80 444.60 L201.90 452.10 Z M202.90 452.10 L204.00 448.18 L205.10 452.10 Z M207.20 452.10 L208.30 445.48 L209.40 452.10 Z M212.90 452.10 L214.00 448.18 L215.10 452.10 Z M219.20 452.10 L220.30 444.60 L221.40 452.10 Z M224.30 452.10 L225.40 444.60 L226.50 452.10 Z M232.90 452.10 L234.00 447.73 L235.10 452.10 Z M239.90 452.10 L241.00 444.60 L242.10 452.10 Z M245.90 452.10 L247.00 448.63 L248.10 452.10 Z M250.90 452.10 L252.00 448.18 L253.10 452.10 Z M255.90 452.10 L257.00 448.63 L258.10 452.10 Z M263.80 452.10 L264.90 444.60 L266.00 452.10 Z M276.70 452.10 L277.80 445.48 L278.90 452.10 Z M279.90 452.10 L281.00 444.60 L282.10 452.10 Z M287.30 452.10 L288.40 446.92 L289.50 452.10 Z M290.70 452.10 L291.80 449.08 L292.90 452.10 Z M296.20 452.10 L297.30 448.63 L298.40 452.10 Z M299.00 452.10 L300.10 448.72 L301.20 452.10 Z M303.90 452.10 L305.00 446.61 L306.10 452.10 Z M305.60 452.10 L306.70 448.18 L307.80 452.10 Z M309.70 452.10 L310.80 444.60 L311.90 452.10 Z M314.20 452.10 L315.30 444.60 L316.40 452.10 Z M330.40 452.10 L331.50 444.60 L332.60 452.10 Z M349.50 452.10 L350.60 444.60 L351.70 452.10 Z M354.60 452.10 L355.70 446.38 L356.80 452.10 Z M370.20 452.10 L371.30 444.60 L372.40 452.10 Z M389.70 452.10 L390.80 446.38 L391.90 452.10 Z M410.40 452.10 L411.50 444.60 L412.60 452.10 Z M420.60 452.10 L421.70 447.73 L422.80 452.10 Z M439.90 452.10 L441.00 444.60 L442.10 452.10 Z M445.30 452.10 L446.40 448.63 L447.50 452.10 Z M455.20 452.10 L456.30 448.63 L457.40 452.10 Z M460.90 452.10 L462.00 444.60 L463.10 452.10 Z M468.30 452.10 L469.40 448.63 L470.50 452.10 Z M472.70 452.10 L473.80 449.08 L474.90 452.10 Z M479.90 452.10 L481.00 444.60 L482.10 452.10 Z M484.80 452.10 L485.90 448.41 L487.00 452.10 Z M500.70 452.10 L501.80 445.80 L502.90 452.10 Z M511.20 452.10 L512.30 449.08 L513.40 452.10 Z M519.90 452.10 L521.00 447.73 L522.10 452.10 Z M540.90 452.10 L542.00 444.81 L543.10 452.10 Z M548.40 452.10 L549.50 449.08 L550.60 452.10 Z M550.90 452.10 L552.00 449.31 L553.10 452.10 Z M570.20 452.10 L571.30 444.60 L572.40 452.10 Z M575.20 452.10 L576.30 448.63 L577.40 452.10 Z M590.90 452.10 L592.00 444.60 L593.10 452.10 Z M601.20 452.10 L602.30 448.41 L603.40 452.10 Z M610.50 452.10 L611.60 447.96 L612.70 452.10 Z M620.70 452.10 L621.80 444.60 L622.90 452.10 Z M630.90 452.10 L632.00 447.73 L633.10 452.10 Z M640.90 452.10 L642.00 449.08 L643.10 452.10 Z M660.90 452.10 L662.00 445.93 L663.10 452.10 Z M671.30 452.10 L672.40 448.36 L673.50 452.10 Z M700.70 452.10 L701.80 447.28 L702.90 452.10 Z M711.20 452.10 L712.30 444.60 L713.40 452.10 Z M721.60 452.10 L722.70 447.42 L723.80 452.10 Z M740.90 452.10 L742.00 449.31 L743.10 452.10 Z M751.40 452.10 L752.50 448.36 L753.60 452.10 Z M791.20 452.10 L792.30 449.53 L793.40 452.10 Z M801.40 452.10 L802.50 448.41 L803.60 452.10 Z M831.90 452.10 L833.00 449.08 L834.10 452.10 Z M841.90 452.10 L843.00 449.31 L844.10 452.10 Z M851.90 452.10 L853.00 448.41 L854.10 452.10 Z" fill="#0f0f88" stroke="none"/>
<line x1="56.2" y1="51.0" x2="56.2" y2="101.5" stroke="#111" stroke-width="1.2"/>
<line x1="56.0" y1="101.5" x2="56.0" y2="456.0" stroke="#111" stroke-width="2"/>
<line x1="55.0" y1="455.3" x2="879.0" y2="455.3" stroke="#111" stroke-width="1.50"/>
<line x1="876.00" y1="51.0" x2="876.00" y2="458.0" stroke="#4a4a4a" stroke-width="1.5"/>
<line x1="876.00" y1="51.0" x2="879.50" y2="51.0" stroke="#4a4a4a" stroke-width="1.5"/>
<line x1="52.8" y1="455.0" x2="56.0" y2="455.0" stroke="#2a2a2a" stroke-width="1.2"/>
<text x="47.0" y="458.3" class="tk" text-anchor="end">0</text>
<line x1="52.8" y1="434.8" x2="56.0" y2="434.8" stroke="#2a2a2a" stroke-width="1.2"/>
<line x1="52.8" y1="414.6" x2="56.0" y2="414.6" stroke="#2a2a2a" stroke-width="1.2"/>
<text x="47.0" y="417.9" class="tk" text-anchor="end">10</text>
<line x1="52.8" y1="394.4" x2="56.0" y2="394.4" stroke="#2a2a2a" stroke-width="1.2"/>
<line x1="52.8" y1="374.2" x2="56.0" y2="374.2" stroke="#2a2a2a" stroke-width="1.2"/>
<text x="47.0" y="377.5" class="tk" text-anchor="end">20</text>
<line x1="52.8" y1="354.0" x2="56.0" y2="354.0" stroke="#2a2a2a" stroke-width="1.2"/>
<line x1="52.8" y1="333.8" x2="56.0" y2="333.8" stroke="#2a2a2a" stroke-width="1.2"/>
<text x="47.0" y="337.1" class="tk" text-anchor="end">30</text>
<line x1="52.8" y1="313.6" x2="56.0" y2="313.6" stroke="#2a2a2a" stroke-width="1.2"/>
<line x1="52.8" y1="293.4" x2="56.0" y2="293.4" stroke="#2a2a2a" stroke-width="1.2"/>
<text x="47.0" y="296.7" class="tk" text-anchor="end">40</text>
<line x1="52.8" y1="273.2" x2="56.0" y2="273.2" stroke="#2a2a2a" stroke-width="1.2"/>
<line x1="52.8" y1="253.0" x2="56.0" y2="253.0" stroke="#2a2a2a" stroke-width="1.2"/>
<text x="47.0" y="256.3" class="tk" text-anchor="end">50</text>
<line x1="52.8" y1="232.8" x2="56.0" y2="232.8" stroke="#2a2a2a" stroke-width="1.2"/>
<line x1="52.8" y1="212.6" x2="56.0" y2="212.6" stroke="#2a2a2a" stroke-width="1.2"/>
<text x="47.0" y="215.9" class="tk" text-anchor="end">60</text>
<line x1="52.8" y1="192.4" x2="56.0" y2="192.4" stroke="#2a2a2a" stroke-width="1.2"/>
<line x1="52.8" y1="172.2" x2="56.0" y2="172.2" stroke="#2a2a2a" stroke-width="1.2"/>
<text x="47.0" y="175.5" class="tk" text-anchor="end">70</text>
<line x1="52.8" y1="152.0" x2="56.0" y2="152.0" stroke="#2a2a2a" stroke-width="1.2"/>
<line x1="52.8" y1="131.8" x2="56.0" y2="131.8" stroke="#2a2a2a" stroke-width="1.2"/>
<text x="47.0" y="135.1" class="tk" text-anchor="end">80</text>
<line x1="52.8" y1="111.6" x2="56.0" y2="111.6" stroke="#2a2a2a" stroke-width="1.2"/>
<line x1="52.8" y1="91.4" x2="56.0" y2="91.4" stroke="#2a2a2a" stroke-width="1.2"/>
<text x="47.0" y="94.7" class="tk" text-anchor="end">90</text>
<line x1="52.8" y1="71.2" x2="56.0" y2="71.2" stroke="#2a2a2a" stroke-width="1.2"/>
<line x1="52.8" y1="51.0" x2="56.0" y2="51.0" stroke="#2a2a2a" stroke-width="1.2"/>
<text x="47.0" y="54.3" class="tk" text-anchor="end">100</text>
<line x1="56.0" y1="455.0" x2="56.0" y2="458.0" stroke="#111" stroke-width="1.2"/>
<text x="54.5" y="466.0" class="tk" text-anchor="middle">503.0</text>
<line x1="138.0" y1="455.0" x2="138.0" y2="458.0" stroke="#111" stroke-width="1.2"/>
<line x1="220.0" y1="455.0" x2="220.0" y2="458.0" stroke="#111" stroke-width="1.2"/>
<text x="218.5" y="466.0" class="tk" text-anchor="middle">1164.4</text>
<line x1="302.0" y1="455.0" x2="302.0" y2="458.0" stroke="#111" stroke-width="1.2"/>
<line x1="384.0" y1="455.0" x2="384.0" y2="458.0" stroke="#111" stroke-width="1.2"/>
<text x="382.5" y="466.0" class="tk" text-anchor="middle">1825.8</text>
<line x1="466.0" y1="455.0" x2="466.0" y2="458.0" stroke="#111" stroke-width="1.2"/>
<line x1="548.0" y1="455.0" x2="548.0" y2="458.0" stroke="#111" stroke-width="1.2"/>
<text x="546.5" y="466.0" class="tk" text-anchor="middle">2487.2</text>
<line x1="630.0" y1="455.0" x2="630.0" y2="458.0" stroke="#111" stroke-width="1.2"/>
<line x1="712.0" y1="455.0" x2="712.0" y2="458.0" stroke="#111" stroke-width="1.2"/>
<text x="710.5" y="466.0" class="tk" text-anchor="middle">3148.6</text>
<line x1="794.0" y1="455.0" x2="794.0" y2="458.0" stroke="#111" stroke-width="1.2"/>
<line x1="876.0" y1="455.0" x2="876.0" y2="458.0" stroke="#111" stroke-width="1.2"/>
<text x="874.5" y="466.0" class="tk" text-anchor="middle">3810.0</text>
<text x="881.0" y="50.0" class="tk">7417.3</text>
<text x="881.0" y="458.0" class="tk">0</text>
<text class="pl" transform="translate(110.5 237.9) rotate(-90)">685.0922</text>
<text class="pl" transform="translate(150.7 55.0) rotate(-90)">846.1132</text>
<text class="pl" transform="translate(201.2 233.6) rotate(-90)">1049.1284</text>
<text class="pl" transform="translate(240.9 306.1) rotate(-90)">1210.1380</text>
<text class="pl" transform="translate(280.7 311.6) rotate(-90)">1371.1500</text>
<text class="pl" transform="translate(331.1 310.6) rotate(-90)">1574.1558</text>
<text class="pl" transform="translate(371.5 394.0) rotate(-90)">1736.1780</text>
<text class="pl" transform="translate(411.4 388.6) rotate(-90)">1897.1683</text>
<text class="pl" transform="translate(461.9 384.8) rotate(-90)">2099.1721</text>
<text class="pl" transform="translate(501.7 418.1) rotate(-90)">2260.1690</text>
<text class="pl" transform="translate(541.8 426.2) rotate(-90)">2421.1788</text>
<text class="pl" transform="translate(592.2 418.6) rotate(-90)">2625.1586</text>
<text class="tt" transform="translate(754.6 85.8) scale(1.000 1)">(A)</text>
<text class="ax" style="letter-spacing:0.45px" transform="translate(21.8 301.0) rotate(-90)">% Intensity</text>
<text class="ax" transform="translate(442.3 490.3) scale(1.020 1)">Mass (m/z)</text>
<path d="M76.80 954.49 L77.30 954.97 L77.80 954.48 L78.30 954.09 L78.80 954.54 L79.30 953.91 L79.80 953.87 L80.30 952.03 L80.80 954.76 L81.30 954.34 L81.80 953.64 L82.30 953.66 L82.80 952.34 L83.30 954.00 L83.80 954.05 L84.30 954.00 L84.80 953.91 L85.30 954.47 L85.80 954.26 L86.30 953.65 L86.80 951.53 L87.30 953.60 L87.80 953.57 L88.30 953.50 L88.80 954.62 L89.30 954.76 L89.80 952.95 L90.30 954.36 L90.80 952.97 L91.30 954.73 L91.80 953.04 L92.30 950.89 L92.80 953.16 L93.30 953.69 L93.80 954.26 L94.30 954.09 L94.80 953.64 L95.30 953.34 L95.80 954.41 L96.30 954.57 L96.80 953.59 L97.30 954.08 L97.80 954.78 L98.30 953.32 L98.80 953.46 L99.30 951.24 L99.80 953.29 L100.30 953.54 L100.80 954.72 L101.30 953.95 L101.80 953.17 L102.30 954.62 L102.80 953.30 L103.30 954.28 L103.80 953.19 L104.30 954.56 L104.80 953.64 L105.30 952.88 L105.80 953.28 L106.30 953.31 L106.80 953.99 L107.30 953.15 L107.80 952.94 L108.30 953.92 L108.80 954.03 L109.30 954.63 L109.80 952.83 L110.30 952.76 L110.80 953.54 L111.30 953.06 L111.80 954.58 L112.30 954.11 L112.80 953.97 L113.30 950.54 L113.80 954.20 L114.30 952.84 L114.80 953.76 L115.30 953.44 L115.80 952.95 L116.30 954.27 L116.80 954.27 L117.30 954.39 L117.80 953.50 L118.30 954.60 L118.80 953.63 L119.30 954.53 L119.80 954.05 L120.30 953.97 L120.80 952.96 L121.30 954.79 L121.80 954.26 L122.30 954.27 L122.80 953.68 L123.30 952.97 L123.80 952.86 L124.30 953.76 L124.80 954.20 L125.30 954.03 L125.80 952.14 L126.30 954.16 L126.80 953.14 L127.30 954.12 L127.80 954.58 L128.30 954.13 L128.80 953.66 L129.30 954.63 L129.80 953.57 L130.30 953.43 L130.80 953.79 L131.30 954.50 L131.80 954.70 L132.30 953.14 L132.80 953.35 L133.30 953.63 L133.80 953.79 L134.30 954.48 L134.80 953.05 L135.30 952.60 L135.80 953.94 L136.30 953.52 L136.80 951.53 L137.30 953.27 L137.80 952.89 L138.30 953.69 L138.80 954.11 L139.30 954.72 L139.80 953.20 L140.30 951.66 L140.80 954.23 L141.30 953.34 L141.80 954.19 L142.30 954.03 L142.80 953.59 L143.30 952.24 L143.80 954.24 L144.30 953.71 L144.80 954.62 L145.30 953.94 L145.80 954.39 L146.30 953.73 L146.80 953.21 L147.30 954.44 L147.80 954.24 L148.30 954.60 L148.80 954.75 L149.30 954.38 L149.80 954.62 L150.30 952.06 L150.80 953.90 L151.30 951.64 L151.80 952.93 L152.30 953.15 L152.80 954.38 L153.30 953.10 L153.80 954.25 L154.30 954.18 L154.80 953.79 L155.30 952.97 L155.80 953.85 L156.30 954.26 L156.80 953.85 L157.30 953.92 L157.80 953.56 L158.30 954.60 L158.80 954.50 L159.30 953.85 L159.80 953.20 L160.30 953.81 L160.80 952.86 L161.30 953.83 L161.80 954.40 L162.30 953.78 L162.80 952.93 L163.30 953.63 L163.80 954.65 L164.30 953.75 L164.80 953.67 L165.30 954.60 L165.80 953.43 L166.30 954.04 L166.80 953.06 L167.30 952.85 L167.80 953.25 L168.30 953.44 L168.80 954.04 L169.30 954.26 L169.80 953.82 L170.30 953.20 L170.80 953.67 L171.30 953.63 L171.80 953.12 L172.30 954.06 L172.80 953.86 L173.30 954.02 L173.80 953.27 L174.30 954.42 L174.80 953.43 L175.30 954.65 L175.80 954.80 L176.30 953.07 L176.80 954.25 L177.30 952.99 L177.80 953.64 L178.30 953.05 L178.80 953.19 L179.30 954.16 L179.80 954.74 L180.30 953.81 L180.80 953.81 L181.30 952.38 L181.80 952.87 L182.30 953.83 L182.80 953.09 L183.30 953.21 L183.80 954.78 L184.30 950.58 L184.80 953.72 L185.30 953.45 L185.80 953.83 L186.30 952.07 L186.80 954.49 L187.30 953.71 L187.80 953.61 L188.30 953.13 L188.80 952.83 L189.30 954.40 L189.80 954.52 L190.30 953.61 L190.80 953.81 L191.30 954.41 L191.80 954.62 L192.30 954.36 L192.80 953.61 L193.30 954.56 L193.80 954.33 L194.30 953.61 L194.80 952.94 L195.30 952.46 L195.80 954.08 L196.30 953.26 L196.80 954.13 L197.30 954.12 L197.80 953.87 L198.30 954.80 L198.80 954.20 L199.30 952.99 L199.80 954.28 L200.30 952.63 L200.80 952.47 L201.30 954.61 L201.80 953.82 L202.30 953.94 L202.80 954.08 L203.30 952.95 L203.80 951.95 L204.30 953.12 L204.80 953.14 L205.30 951.63 L205.80 953.64 L206.30 954.00 L206.80 953.37 L207.30 953.92 L207.80 954.23 L208.30 952.83 L208.80 952.89 L209.30 954.31 L209.80 954.60 L210.30 952.90 L210.80 952.37 L211.30 953.66 L211.80 954.75 L212.30 953.85 L212.80 954.25 L213.30 954.76 L213.80 954.01 L214.30 954.05 L214.80 951.60 L215.30 953.05 L215.80 954.14 L216.30 953.32 L216.80 953.64 L217.30 953.86 L217.80 954.71 L218.30 953.28 L218.80 954.59 L219.30 954.05 L219.80 953.34 L220.30 953.93 L220.80 954.07 L221.30 953.18 L221.80 954.76 L222.30 953.84 L222.80 953.34 L223.30 954.05 L223.80 953.12 L224.30 954.15 L224.80 954.06 L225.30 953.76 L225.80 953.49 L226.30 953.65 L226.80 954.42 L227.30 954.34 L227.80 953.65 L228.30 954.42 L228.80 954.11 L229.30 953.45 L229.80 954.29 L230.30 953.66 L230.80 952.99 L231.30 951.29 L231.80 953.77 L232.30 953.40 L232.80 952.95 L233.30 952.95 L233.80 954.25 L234.30 953.37 L234.80 953.52 L235.30 953.53 L235.80 954.22 L236.30 954.64 L236.80 954.63 L237.30 954.41 L237.80 953.44 L238.30 954.67 L238.80 953.30 L239.30 953.53 L239.80 953.59 L240.30 953.19 L240.80 954.39 L241.30 954.47 L241.80 953.15 L242.30 954.56 L242.80 952.84 L243.30 953.89 L243.80 954.73 L244.30 952.77 L244.80 953.62 L245.30 954.27 L245.80 952.97 L246.30 953.09 L246.80 954.10 L247.30 953.24 L247.80 953.84 L248.30 953.59 L248.80 954.74 L249.30 953.79 L249.80 954.24 L250.30 954.63 L250.80 954.45 L251.30 954.51 L251.80 954.47 L252.30 954.72 L252.80 953.85 L253.30 954.40 L253.80 953.64 L254.30 954.28 L254.80 953.55 L255.30 953.21 L255.80 953.38 L256.30 952.92 L256.80 953.03 L257.30 954.35 L257.80 952.92 L258.30 953.97 L258.80 952.87 L259.30 953.17 L259.80 953.27 L260.30 953.99 L260.80 953.17 L261.30 953.15 L261.80 953.42 L262.30 954.43 L262.80 953.32 L263.30 954.63 L263.80 953.89 L264.30 953.77 L264.80 952.90 L265.30 954.40 L265.80 953.86 L266.30 953.35 L266.80 954.12 L267.30 952.82 L267.80 953.54 L268.30 954.23 L268.80 953.11 L269.30 953.44 L269.80 954.54 L270.30 954.07 L270.80 953.33 L271.30 953.10 L271.80 952.80 L272.30 954.49 L272.80 952.96 L273.30 952.72 L273.80 953.74 L274.30 953.97 L274.80 953.41 L275.30 953.63 L275.80 952.98 L276.30 953.22 L276.80 953.85 L277.30 954.46 L277.80 952.24 L278.30 953.73 L278.80 953.52 L279.30 953.01 L279.80 953.72 L280.30 954.46 L280.80 952.82 L281.30 954.22 L281.80 953.93 L282.30 952.82 L282.80 954.40 L283.30 954.03 L283.80 953.55 L284.30 953.40 L284.80 953.58 L285.30 953.31 L285.80 954.26 L286.30 954.69 L286.80 954.25 L287.30 953.59 L287.80 952.99 L288.30 954.22 L288.80 953.60 L289.30 952.95 L289.80 953.11 L290.30 951.26 L290.80 953.65 L291.30 954.09 L291.80 954.44 L292.30 953.46 L292.80 952.83 L293.30 954.20 L293.80 954.38 L294.30 952.79 L294.80 953.48 L295.30 953.01 L295.80 953.82 L296.30 954.45 L296.80 953.12 L297.30 954.61 L297.80 953.51 L298.30 953.08 L298.80 954.77 L299.30 954.23 L299.80 953.19 L300.30 954.05 L300.80 952.97 L301.30 953.95 L301.80 953.46 L302.30 953.52 L302.80 953.05 L303.30 953.07 L303.80 953.89 L304.30 953.92 L304.80 954.62 L305.30 954.44 L305.80 953.05 L306.30 953.38 L306.80 953.28 L307.30 954.46 L307.80 953.23 L308.30 953.16 L308.80 954.68 L309.30 953.42 L309.80 954.28 L310.30 953.98 L310.80 952.83 L311.30 953.74 L311.80 953.57 L312.30 953.15 L312.80 953.33 L313.30 953.46 L313.80 952.88 L314.30 953.09 L314.80 954.00 L315.30 953.62 L315.80 954.18 L316.30 954.30 L316.80 954.79 L317.30 954.51 L317.80 953.67 L318.30 954.61 L318.80 953.85 L319.30 954.61 L319.80 952.91 L320.30 954.60 L320.80 954.00 L321.30 953.41 L321.80 952.94 L322.30 953.69 L322.80 951.67 L323.30 953.85 L323.80 953.41 L324.30 950.94 L324.80 954.73 L325.30 954.53 L325.80 954.41 L326.30 954.29 L326.80 952.50 L327.30 953.05 L327.80 953.64 L328.30 953.40 L328.80 952.93 L329.30 954.43 L329.80 953.51 L330.30 950.58 L330.80 953.42 L331.30 954.67 L331.80 953.75 L332.30 953.39 L332.80 954.59 L333.30 954.48 L333.80 953.74 L334.30 954.56 L334.80 953.20 L335.30 953.18 L335.80 952.90 L336.30 954.25 L336.80 954.60 L337.30 954.23 L337.80 954.19 L338.30 952.67 L338.80 953.41 L339.30 953.19 L339.80 953.27 L340.30 954.38 L340.80 954.12 L341.30 953.98 L341.80 953.40 L342.30 954.13 L342.80 951.61 L343.30 953.68 L343.80 952.12 L344.30 953.37 L344.80 953.26 L345.30 954.31 L345.80 953.36 L346.30 953.17 L346.80 953.30 L347.30 954.30 L347.80 954.66 L348.30 953.16 L348.80 954.09 L349.30 954.12 L349.80 953.83 L350.30 954.49 L350.80 953.84 L351.30 953.15 L351.80 953.13 L352.30 953.27 L352.80 954.35 L353.30 954.38 L353.80 953.78 L354.30 953.96 L354.80 952.87 L355.30 954.23 L355.80 954.55 L356.30 951.56 L356.80 953.67 L357.30 953.33 L357.80 952.95 L358.30 953.94 L358.80 954.38 L359.30 953.09 L359.80 952.88 L360.30 954.04 L360.80 953.33 L361.30 952.98 L361.80 953.14 L362.30 953.12 L362.80 954.46 L363.30 952.92 L363.80 953.53 L364.30 953.21 L364.80 954.32 L365.30 953.09 L365.80 953.23 L366.30 954.58 L366.80 953.59 L367.30 952.98 L367.80 954.79 L368.30 954.27 L368.80 953.31 L369.30 953.28 L369.80 954.66 L370.30 953.47 L370.80 952.66 L371.30 952.85 L371.80 954.19 L372.30 953.98 L372.80 953.73 L373.30 954.49 L373.80 954.36 L374.30 953.49 L374.80 953.90 L375.30 953.21 L375.80 953.74 L376.30 953.69 L376.80 954.16 L377.30 953.21 L377.80 952.95 L378.30 953.53 L378.80 952.84 L379.30 953.32 L379.80 954.65 L380.30 953.34 L380.80 953.11 L381.30 953.52 L381.80 954.25 L382.30 952.84 L382.80 951.29 L383.30 953.45 L383.80 952.49 L384.30 952.39 L384.80 952.80 L385.30 953.65 L385.80 953.07 L386.30 953.32 L386.80 954.13 L387.30 953.21 L387.80 954.23 L388.30 953.57 L388.80 953.25 L389.30 953.49 L389.80 951.08 L390.30 953.93 L390.80 954.75 L391.30 954.14 L391.80 953.23 L392.30 954.13 L392.80 954.54 L393.30 952.65 L393.80 952.26 L394.30 953.46 L394.80 953.36 L395.30 953.60 L395.80 953.13 L396.30 952.03 L396.80 953.64 L397.30 953.97 L397.80 953.91 L398.30 952.85 L398.80 952.16 L399.30 952.91 L399.80 953.97 L400.30 953.45 L400.80 952.85 L401.30 954.58 L401.80 953.32 L402.30 953.17 L402.80 954.03 L403.30 953.53 L403.80 954.68 L404.30 954.05 L404.80 953.62 L405.30 953.35 L405.80 954.56 L406.30 953.76 L406.80 953.81 L407.30 953.52 L407.80 953.10 L408.30 953.26 L408.80 951.64 L409.30 953.59 L409.80 953.79 L410.30 953.90 L410.80 953.92 L411.30 954.74 L411.80 953.49 L412.30 953.43 L412.80 954.19 L413.30 954.73 L413.80 953.12 L414.30 953.78 L414.80 953.54 L415.30 954.30 L415.80 953.27 L416.30 953.45 L416.80 953.83 L417.30 952.13 L417.80 954.21 L418.30 953.70 L418.80 953.76 L419.30 954.53 L419.80 952.91 L420.30 953.81 L420.80 953.58 L421.30 953.30 L421.80 953.45 L422.30 954.32 L422.80 954.46 L423.30 953.64 L423.80 954.05 L424.30 954.40 L424.80 953.55 L425.30 953.26 L425.80 952.83 L426.30 954.68 L426.80 953.07 L427.30 953.64 L427.80 953.59 L428.30 952.82 L428.80 951.89 L429.30 954.26 L429.80 953.04 L430.30 952.85 L430.80 953.77 L431.30 953.42 L431.80 954.48 L432.30 953.58 L432.80 954.33 L433.30 953.58 L433.80 953.89 L434.30 953.09 L434.80 953.01 L435.30 953.30 L435.80 953.04 L436.30 952.84 L436.80 953.09 L437.30 953.35 L437.80 953.76 L438.30 952.60 L438.80 954.59 L439.30 952.96 L439.80 953.77 L440.30 953.20 L440.80 953.77 L441.30 954.41 L441.80 952.92 L442.30 954.11 L442.80 953.35 L443.30 954.53 L443.80 953.69 L444.30 954.25 L444.80 952.85 L445.30 951.76 L445.80 954.31 L446.30 952.83 L446.80 953.12 L447.30 954.42 L447.80 954.27 L448.30 954.41 L448.80 954.34 L449.30 953.00 L449.80 953.60 L450.30 953.30 L450.80 952.85 L451.30 953.25 L451.80 953.54 L452.30 954.42 L452.80 954.08 L453.30 953.36 L453.80 952.21 L454.30 954.28 L454.80 954.29 L455.30 954.16 L455.80 953.01 L456.30 953.50 L456.80 952.82 L457.30 953.61 L457.80 953.87 L458.30 953.21 L458.80 953.44 L459.30 953.02 L459.80 953.66 L460.30 953.24 L460.80 954.21 L461.30 953.35 L461.80 954.70 L462.30 953.17 L462.80 954.78 L463.30 954.07 L463.80 954.09 L464.30 954.03 L464.80 954.51 L465.30 953.81 L465.80 953.03 L466.30 954.18 L466.80 954.13 L467.30 953.57 L467.80 954.00 L468.30 952.39 L468.80 953.69 L469.30 953.99 L469.80 953.10 L470.30 954.79 L470.80 953.43 L471.30 954.78 L471.80 954.53 L472.30 954.78 L472.80 953.27 L473.30 954.10 L473.80 954.46 L474.30 953.82 L474.80 952.93 L475.30 954.22 L475.80 954.41 L476.30 953.87 L476.80 953.19 L477.30 952.75 L477.80 954.37 L478.30 953.28 L478.80 954.51 L479.30 953.90 L479.80 954.39 L480.30 953.53 L480.80 952.87 L481.30 954.53 L481.80 953.03 L482.30 953.58 L482.80 954.03 L483.30 952.94 L483.80 953.21 L484.30 954.55 L484.80 953.19 L485.30 952.65 L485.80 953.43 L486.30 953.36 L486.80 954.19 L487.30 953.06 L487.80 953.73 L488.30 953.03 L488.80 954.02 L489.30 953.19 L489.80 954.18 L490.30 953.52 L490.80 953.62 L491.30 954.06 L491.80 954.44 L492.30 953.71 L492.80 954.68 L493.30 954.21 L493.80 953.96 L494.30 954.55 L494.80 954.51 L495.30 953.71 L495.80 953.58 L496.30 954.00 L496.80 952.93 L497.30 953.36 L497.80 954.71 L498.30 954.19 L498.80 953.29 L499.30 953.06 L499.80 953.30 L500.30 953.48 L500.80 954.50 L501.30 952.05 L501.80 952.98 L502.30 953.55 L502.80 954.14 L503.30 954.60 L503.80 952.85 L504.30 953.74 L504.80 953.73 L505.30 954.14 L505.80 954.74 L506.30 954.79 L506.80 954.46 L507.30 954.20 L507.80 952.93 L508.30 953.60 L508.80 953.24 L509.30 953.22 L509.80 953.09 L510.30 953.53 L510.80 954.10 L511.30 954.28 L511.80 954.42 L512.30 954.35 L512.80 951.95 L513.30 954.69 L513.80 952.85 L514.30 953.87 L514.80 953.02 L515.30 953.40 L515.80 953.05 L516.30 951.79 L516.80 953.39 L517.30 953.29 L517.80 952.91 L518.30 953.70 L518.80 953.72 L519.30 953.01 L519.80 953.11 L520.30 953.85 L520.80 954.03 L521.30 954.74 L521.80 952.83 L522.30 954.45 L522.80 954.24 L523.30 953.22 L523.80 953.43 L524.30 954.11 L524.80 952.92 L525.30 952.99 L525.80 953.06 L526.30 953.50 L526.80 954.15 L527.30 954.74 L527.80 953.85 L528.30 953.64 L528.80 954.33 L529.30 953.59 L529.80 953.81 L530.30 953.73 L530.80 952.97 L531.30 952.99 L531.80 953.97 L532.30 952.26 L532.80 953.51 L533.30 953.34 L533.80 952.75 L534.30 953.43 L534.80 954.81 L535.30 954.09 L535.80 953.50 L536.30 954.08 L536.80 953.90 L537.30 953.78 L537.80 953.42 L538.30 954.51 L538.80 954.64 L539.30 953.49 L539.80 953.09 L540.30 954.59 L540.80 953.56 L541.30 954.51 L541.80 953.05 L542.30 953.04 L542.80 954.05 L543.30 952.32 L543.80 954.45 L544.30 952.96 L544.80 953.79 L545.30 954.93 L545.80 953.11 L546.30 953.85 L546.80 953.72 L547.30 953.84 L547.80 953.61 L548.30 953.12 L548.80 954.65 L549.30 954.08 L549.80 953.22 L550.30 954.90 L550.80 954.84 L551.30 953.83 L551.80 954.68 L552.30 954.75 L552.80 953.07 L553.30 953.76 L553.80 954.87 L554.30 954.39 L554.80 954.57 L555.30 954.51 L555.80 954.20 L556.30 953.72 L556.80 953.73 L557.30 954.07 L557.80 954.18 L558.30 953.76 L558.80 954.00 L559.30 953.70 L559.80 953.52 L560.30 954.51 L560.80 951.83 L561.30 953.81 L561.80 953.93 L562.30 954.18 L562.80 954.89 L563.30 954.04 L563.80 954.58 L564.30 953.69 L564.80 953.15 L565.30 954.22 L565.80 953.75 L566.30 954.99 L566.80 953.03 L567.30 953.53 L567.80 954.17 L568.30 953.34 L568.80 954.27 L569.30 954.96 L569.80 953.84 L570.30 954.55 L570.80 954.83 L571.30 953.65 L571.80 953.16 L572.30 953.63 L572.80 953.64 L573.30 954.10 L573.80 953.71 L574.30 954.16 L574.80 953.46 L575.30 954.86 L575.80 954.24 L576.30 954.22 L576.80 954.99 L577.30 951.77 L577.80 953.89 L578.30 953.63 L578.80 953.91 L579.30 955.06 L579.80 954.31 L580.30 953.64 L580.80 953.40 L581.30 952.64 L581.80 953.39 L582.30 953.43 L582.80 953.81 L583.30 953.32 L583.80 951.98 L584.30 955.17 L584.80 954.92 L585.30 952.96 L585.80 953.58 L586.30 953.92 L586.80 953.61 L587.30 954.06 L587.80 953.38 L588.30 954.34 L588.80 954.35 L589.30 953.83 L589.80 954.64 L590.30 955.19 L590.80 955.09 L591.30 953.88 L591.80 954.43 L592.30 954.48 L592.80 953.84 L593.30 954.51 L593.80 955.00 L594.30 951.57 L594.80 954.64 L595.30 954.43 L595.80 954.29 L596.30 954.87 L596.80 954.95 L597.30 953.95 L597.80 953.32 L598.30 953.81 L598.80 954.34 L599.30 954.65 L599.80 953.77 L600.30 953.65 L600.80 953.81 L601.30 954.87 L601.80 953.78 L602.30 953.82 L602.80 953.81 L603.30 953.67 L603.80 953.90 L604.30 954.75 L604.80 954.88 L605.30 953.46 L605.80 953.79 L606.30 954.13 L606.80 954.04 L607.30 955.12 L607.80 954.07 L608.30 954.88 L608.80 953.98 L609.30 954.06 L609.80 954.49 L610.30 954.25 L610.80 953.33 L611.30 952.19 L611.80 953.59 L612.30 955.06 L612.80 955.16 L613.30 955.16 L613.80 954.73 L614.30 953.69 L614.80 954.66 L615.30 954.75 L615.80 954.21 L616.30 953.54 L616.80 954.40 L617.30 953.03 L617.80 953.67 L618.30 954.35 L618.80 954.44 L619.30 954.35 L619.80 953.46 L620.30 953.45 L620.80 954.82 L621.30 954.31 L621.80 953.96 L622.30 953.89 L622.80 955.25 L623.30 954.51 L623.80 954.23 L624.30 955.19 L624.80 953.35 L625.30 953.36 L625.80 953.65 L626.30 952.89 L626.80 954.90 L627.30 954.61 L627.80 952.71 L628.30 953.38 L628.80 954.54 L629.30 954.25 L629.80 953.93 L630.30 955.07 L630.80 954.13 L631.30 954.22 L631.80 955.13 L632.30 955.17 L632.80 955.06 L633.30 954.32 L633.80 953.88 L634.30 954.75 L634.80 954.47 L635.30 955.19 L635.80 953.49 L636.30 953.99 L636.80 954.29 L637.30 954.33 L637.80 953.30 L638.30 953.84 L638.80 954.56 L639.30 953.48 L639.80 954.26 L640.30 955.24 L640.80 952.49 L641.30 953.77 L641.80 954.90 L642.30 955.11 L642.80 954.15 L643.30 955.19 L643.80 954.26 L644.30 954.98 L644.80 953.98 L645.30 953.73 L645.80 954.91 L646.30 955.13 L646.80 954.89 L647.30 954.92 L647.80 953.65 L648.30 953.91 L648.80 953.87 L649.30 953.99 L649.80 954.52 L650.30 955.17 L650.80 953.43 L651.30 953.52 L651.80 955.04 L652.30 953.67 L652.80 954.82 L653.30 954.55 L653.80 952.95 L654.30 954.84 L654.80 955.05 L655.30 955.19 L655.80 954.28 L656.30 953.27 L656.80 954.89 L657.30 954.61 L657.80 954.69 L658.30 953.93 L658.80 953.67 L659.30 954.67 L659.80 953.96 L660.30 955.12 L660.80 955.20 L661.30 955.23 L661.80 953.97 L662.30 954.35 L662.80 953.37 L663.30 954.37 L663.80 954.79 L664.30 953.70 L664.80 953.78 L665.30 952.41 L665.80 954.35 L666.30 954.58 L666.80 954.11 L667.30 954.25 L667.80 953.54 L668.30 954.67 L668.80 954.41 L669.30 955.18 L669.80 953.80 L670.30 955.29 L670.80 953.68 L671.30 953.41 L671.80 954.40 L672.30 954.74 L672.80 953.94 L673.30 954.60 L673.80 954.21 L674.30 953.51 L674.80 955.21 L675.30 952.51 L675.80 954.69 L676.30 953.56 L676.80 954.45 L677.30 954.11 L677.80 954.66 L678.30 953.39 L678.80 952.35 L679.30 952.25 L679.80 954.24 L680.30 955.21 L680.80 954.27 L681.30 953.93 L681.80 953.54 L682.30 953.74 L682.80 954.32 L683.30 954.10 L683.80 953.81 L684.30 954.72 L684.80 954.03 L685.30 954.21 L685.80 954.55 L686.30 953.91 L686.80 954.21 L687.30 955.06 L687.80 954.05 L688.30 955.25 L688.80 954.10 L689.30 954.78 L689.80 954.75 L690.30 954.61 L690.80 954.17 L691.30 953.75 L691.80 954.38 L692.30 953.98 L692.80 953.33 L693.30 954.83 L693.80 954.53 L694.30 954.10 L694.80 953.69 L695.30 953.42 L695.80 954.94 L696.30 954.08 L696.80 954.72 L697.30 954.79 L697.80 953.80 L698.30 954.42 L698.80 955.27 L699.30 954.86 L699.80 954.75 L700.30 953.85 L700.80 954.36 L701.30 953.63 L701.80 955.09 L702.30 953.88 L702.80 954.14 L703.30 954.51 L703.80 954.36 L704.30 954.44 L704.80 954.01 L705.30 953.45 L705.80 954.68 L706.30 954.96 L706.80 953.85 L707.30 953.31 L707.80 954.61 L708.30 953.92 L708.80 955.17 L709.30 953.66 L709.80 953.47 L710.30 954.78 L710.80 954.28 L711.30 953.36 L711.80 955.02 L712.30 954.71 L712.80 953.97 L713.30 953.74 L713.80 953.93 L714.30 954.92 L714.80 954.52 L715.30 953.75 L715.80 954.54 L716.30 955.23 L716.80 954.18 L717.30 954.96 L717.80 954.65 L718.30 954.01 L718.80 953.73 L719.30 955.04 L719.80 954.03 L720.30 953.19 L720.80 953.43 L721.30 954.39 L721.80 952.46 L722.30 955.27 L722.80 954.37 L723.30 953.34 L723.80 953.65 L724.30 954.63 L724.80 953.94 L725.30 953.88 L725.80 954.01 L726.30 953.80 L726.80 952.86 L727.30 954.48 L727.80 953.53 L728.30 954.24 L728.80 953.92 L729.30 954.81 L729.80 954.62 L730.30 954.30 L730.80 954.08 L731.30 954.24 L731.80 954.37 L732.30 955.09 L732.80 953.34 L733.30 953.36 L733.80 954.54 L734.30 953.68 L734.80 954.97 L735.30 954.68 L735.80 954.21 L736.30 954.41 L736.80 955.28 L737.30 954.10 L737.80 955.24 L738.30 954.33 L738.80 955.02 L739.30 953.29 L739.80 953.33 L740.30 954.08 L740.80 953.52 L741.30 955.18 L741.80 954.82 L742.30 954.46 L742.80 954.23 L743.30 954.65 L743.80 954.19 L744.30 953.97 L744.80 953.73 L745.30 954.61 L745.80 953.45 L746.30 953.97 L746.80 954.42 L747.30 954.57 L747.80 954.93 L748.30 954.27 L748.80 954.90 L749.30 952.96 L749.80 954.25 L750.30 953.94 L750.80 954.96 L751.30 954.57 L751.80 953.83 L752.30 954.07 L752.80 953.80 L753.30 953.67 L753.80 955.24 L754.30 953.86 L754.80 953.87 L755.30 953.77 L755.80 954.99 L756.30 955.26 L756.80 954.56 L757.30 954.73 L757.80 953.42 L758.30 954.07 L758.80 951.42 L759.30 954.04 L759.80 953.60 L760.30 955.13 L760.80 954.30 L761.30 954.83 L761.80 953.78 L762.30 952.95 L762.80 953.37 L763.30 954.24 L763.80 954.54 L764.30 954.82 L764.80 953.40 L765.30 953.60 L765.80 951.56 L766.30 953.49 L766.80 954.99 L767.30 954.46 L767.80 953.87 L768.30 953.52 L768.80 954.58 L769.30 953.64 L769.80 954.05 L770.30 954.44 L770.80 954.08 L771.30 953.38 L771.80 953.69 L772.30 953.32 L772.80 954.48 L773.30 954.38 L773.80 953.56 L774.30 954.72 L774.80 954.71 L775.30 953.38 L775.80 953.89 L776.30 954.87 L776.80 955.15 L777.30 954.09 L777.80 954.83 L778.30 955.26 L778.80 955.03 L779.30 954.51 L779.80 955.10 L780.30 955.08 L780.80 954.98 L781.30 955.22 L781.80 954.11 L782.30 953.56 L782.80 953.42 L783.30 953.86 L783.80 954.51 L784.30 954.20 L784.80 955.27 L785.30 954.03 L785.80 953.68 L786.30 953.70 L786.80 953.48 L787.30 953.30 L787.80 953.85 L788.30 953.00 L788.80 953.76 L789.30 954.75 L789.80 955.17 L790.30 953.94 L790.80 953.93 L791.30 954.23 L791.80 953.60 L792.30 955.23 L792.80 954.53 L793.30 953.37 L793.80 953.67 L794.30 954.44 L794.80 954.59 L795.30 953.37 L795.80 954.95 L796.30 954.40 L796.80 954.04 L797.30 953.74 L797.80 953.36 L798.30 953.43 L798.80 953.56 L799.30 954.95 L799.80 953.54 L800.30 954.76 L800.80 954.41 L801.30 955.03 L801.80 955.25 L802.30 954.85 L802.80 953.02 L803.30 953.83 L803.80 954.32 L804.30 953.42 L804.80 954.51 L805.30 955.28 L805.80 953.88 L806.30 954.31 L806.80 954.09 L807.30 954.27 L807.80 954.26 L808.30 954.20 L808.80 953.46 L809.30 953.60 L809.80 954.15 L810.30 954.83 L810.80 953.89 L811.30 955.08 L811.80 953.32 L812.30 954.27 L812.80 953.57 L813.30 953.29 L813.80 953.73 L814.30 952.61 L814.80 953.97 L815.30 954.86 L815.80 953.37 L816.30 954.24 L816.80 954.88 L817.30 953.39 L817.80 954.24 L818.30 955.13 L818.80 952.70 L819.30 955.20 L819.80 953.94 L820.30 955.11 L820.80 953.38 L821.30 953.58 L821.80 955.20 L822.30 953.80 L822.80 953.93 L823.30 954.79 L823.80 953.97 L824.30 954.69 L824.80 954.23 L825.30 953.49 L825.80 954.95 L826.30 954.59 L826.80 954.04 L827.30 955.25 L827.80 953.56 L828.30 954.50 L828.80 954.84 L829.30 955.05 L829.80 954.11 L830.30 954.05 L830.80 954.03 L831.30 954.01 L831.80 954.99 L832.30 954.65 L832.80 954.07 L833.30 953.80 L833.80 953.50 L834.30 955.14 L834.80 954.06 L835.30 953.58 L835.80 954.20 L836.30 954.82 L836.80 955.06 L837.30 954.25 L837.80 953.88 L838.30 953.86 L838.80 953.36 L839.30 954.91 L839.80 953.68 L840.30 953.45 L840.80 953.33 L841.30 954.50 L841.80 953.37 L842.30 954.01 L842.80 954.02 L843.30 955.04 L843.80 953.55 L844.30 953.48 L844.80 952.38 L845.30 953.61 L845.80 954.46 L846.30 955.21 L846.80 954.59 L847.30 954.86 L847.80 953.62 L848.30 954.13 L848.80 954.73 L849.30 954.44 L849.80 954.23 L850.30 953.39 L850.80 955.22 L851.30 954.18 L851.80 954.43 L852.30 954.86 L852.80 954.99 L853.30 953.30 L853.80 953.49 L854.30 953.44 L854.80 954.84 L855.30 954.63 L855.80 954.34 L856.30 954.22 L856.80 954.65 L857.30 953.58 L857.80 954.37 L858.30 953.31 L858.80 954.97 L859.30 953.62 L859.80 955.25 L860.30 954.81 L860.80 955.17 L861.30 953.54 L861.80 953.76 L862.30 955.12 L862.80 953.55 L863.30 953.78 L863.80 954.74 L864.30 954.17 L864.80 954.24 L865.30 954.21 L865.80 954.72 L866.30 954.43 L866.80 953.39 L867.30 953.40 L867.80 954.15 L868.30 954.00 L868.80 954.04 L869.30 953.57 L869.80 954.98 L870.30 953.65 L870.80 953.33 L871.30 953.76 L871.80 954.10 L872.30 953.93" fill="none" stroke="#0f0f88" stroke-width="2.3" stroke-linejoin="round"/>
<path d="M87.60 953.80 V597.40 M177.30 953.80 V563.00 M266.60 953.80 V747.20 M379.20 953.80 V912.50 M90.50 953.80 V948.50 M96.60 953.80 V938.40 M103.10 953.80 V939.20 M111.10 953.80 V932.00 M115.50 953.80 V948.00 M119.80 953.80 V947.00 M127.80 953.80 V935.00 M140.60 953.80 V948.50 M146.40 953.80 V949.50 M149.70 953.80 V942.70 M155.00 953.80 V948.50 M158.00 953.80 V948.50 M163.10 953.80 V920.80 M164.90 953.80 V870.40 M185.70 953.80 V940.20 M186.60 953.80 V942.00 M190.00 953.80 V947.30 M192.80 953.80 V933.00 M200.50 953.80 V937.00 M205.40 953.80 V949.50 M209.40 953.80 V944.40 M217.50 953.80 V936.40 M239.30 953.80 V940.40 M252.40 953.80 V908.70 M254.50 953.80 V931.40 M256.70 953.80 V943.50 M268.20 953.80 V927.00 M274.90 953.80 V934.70 M276.50 953.80 V939.00 M279.20 953.80 V941.00 M282.20 953.80 V938.80 M290.10 953.80 V934.60 M298.80 953.80 V945.40 M306.60 953.80 V937.20 M315.60 953.80 V948.40 M342.10 953.80 V934.40 M346.30 953.80 V942.30 M356.30 953.80 V903.80 M364.30 953.80 V941.50 M366.50 953.80 V945.00 M368.90 953.80 V943.20 M372.00 953.80 V947.00 M395.90 953.80 V947.30 M403.00 953.80 V947.30 M435.30 953.80 V943.50 M445.70 953.80 V935.80 M455.60 953.80 V941.30 M458.50 953.80 V948.00 M469.30 953.80 V944.00 M524.90 953.83 V945.70 M532.90 953.88 V945.70 M535.90 953.90 V946.20 M545.20 953.96 V937.50 M558.30 954.04 V949.00 M590.40 954.24 V950.00 M621.00 954.30 V949.80 M624.90 954.30 V948.40 M634.80 954.30 V946.20" fill="none" stroke="#5252aa" stroke-width="1.7"/>
<path d="M86.50 954.30 L87.60 946.80 L88.70 954.30 Z M176.20 954.30 L177.30 946.80 L178.40 954.30 Z M265.50 954.30 L266.60 946.80 L267.70 954.30 Z M378.10 954.30 L379.20 946.80 L380.30 954.30 Z M89.40 954.30 L90.50 951.41 L91.60 954.30 Z M95.50 954.30 L96.60 946.87 L97.70 954.30 Z M102.00 954.30 L103.10 947.23 L104.20 954.30 Z M110.00 954.30 L111.10 946.80 L112.20 954.30 Z M114.40 954.30 L115.50 951.19 L116.60 954.30 Z M118.70 954.30 L119.80 950.74 L120.90 954.30 Z M126.70 954.30 L127.80 946.80 L128.90 954.30 Z M139.50 954.30 L140.60 951.41 L141.70 954.30 Z M145.30 954.30 L146.40 951.87 L147.50 954.30 Z M148.60 954.30 L149.70 948.80 L150.80 954.30 Z M153.90 954.30 L155.00 951.41 L156.10 954.30 Z M156.90 954.30 L158.00 951.41 L159.10 954.30 Z M162.00 954.30 L163.10 946.80 L164.20 954.30 Z M163.80 954.30 L164.90 946.80 L166.00 954.30 Z M184.60 954.30 L185.70 947.68 L186.80 954.30 Z M185.50 954.30 L186.60 948.49 L187.70 954.30 Z M188.90 954.30 L190.00 950.88 L191.10 954.30 Z M191.70 954.30 L192.80 946.80 L193.90 954.30 Z M199.40 954.30 L200.50 946.80 L201.60 954.30 Z M204.30 954.30 L205.40 951.87 L206.50 954.30 Z M208.30 954.30 L209.40 949.57 L210.50 954.30 Z M216.40 954.30 L217.50 946.80 L218.60 954.30 Z M238.20 954.30 L239.30 947.77 L240.40 954.30 Z M251.30 954.30 L252.40 946.80 L253.50 954.30 Z M253.40 954.30 L254.50 946.80 L255.60 954.30 Z M255.60 954.30 L256.70 949.16 L257.80 954.30 Z M267.10 954.30 L268.20 946.80 L269.30 954.30 Z M273.80 954.30 L274.90 946.80 L276.00 954.30 Z M275.40 954.30 L276.50 947.14 L277.60 954.30 Z M278.10 954.30 L279.20 948.04 L280.30 954.30 Z M281.10 954.30 L282.20 947.05 L283.30 954.30 Z M289.00 954.30 L290.10 946.80 L291.20 954.30 Z M297.70 954.30 L298.80 950.02 L299.90 954.30 Z M305.50 954.30 L306.60 946.80 L307.70 954.30 Z M314.50 954.30 L315.60 951.37 L316.70 954.30 Z M341.00 954.30 L342.10 946.80 L343.20 954.30 Z M345.20 954.30 L346.30 948.62 L347.40 954.30 Z M355.20 954.30 L356.30 946.80 L357.40 954.30 Z M363.20 954.30 L364.30 948.26 L365.40 954.30 Z M365.40 954.30 L366.50 949.84 L367.60 954.30 Z M367.80 954.30 L368.90 949.03 L370.00 954.30 Z M370.90 954.30 L372.00 950.74 L373.10 954.30 Z M394.80 954.30 L395.90 950.88 L397.00 954.30 Z M401.90 954.30 L403.00 950.88 L404.10 954.30 Z M434.20 954.30 L435.30 949.16 L436.40 954.30 Z M444.60 954.30 L445.70 946.80 L446.80 954.30 Z M454.50 954.30 L455.60 948.17 L456.70 954.30 Z M457.40 954.30 L458.50 951.19 L459.60 954.30 Z M468.20 954.30 L469.30 949.39 L470.40 954.30 Z M523.80 954.33 L524.90 950.17 L526.00 954.33 Z M531.80 954.38 L532.90 950.20 L534.00 954.38 Z M534.80 954.40 L535.90 950.43 L537.00 954.40 Z M544.10 954.46 L545.20 946.96 L546.30 954.46 Z M557.20 954.54 L558.30 951.77 L559.40 954.54 Z M589.30 954.74 L590.40 952.33 L591.50 954.74 Z M619.90 954.80 L621.00 952.27 L622.10 954.80 Z M623.80 954.80 L624.90 951.64 L626.00 954.80 Z M633.70 954.80 L634.80 950.65 L635.90 954.80 Z" fill="#0f0f88" stroke="none"/>
<line x1="88.4" y1="852.0" x2="88.4" y2="953.5" stroke="#0f0f88" stroke-width="1"/>
<line x1="178.1" y1="824.0" x2="178.1" y2="953.5" stroke="#0f0f88" stroke-width="1"/>
<line x1="267.3" y1="864.0" x2="267.3" y2="953.5" stroke="#0f0f88" stroke-width="1"/>
<line x1="76.0" y1="563.0" x2="76.0" y2="957.8" stroke="#333" stroke-width="1.6"/>
<line x1="75.0" y1="956.8" x2="876.4" y2="956.8" stroke="#111" stroke-width="1.60"/>
<line x1="873.40" y1="563.0" x2="873.40" y2="959.8" stroke="#1e1e1e" stroke-width="1.3"/>
<line x1="873.40" y1="563.0" x2="876.90" y2="563.0" stroke="#1e1e1e" stroke-width="1.3"/>
<line x1="74.0" y1="956.8" x2="78.0" y2="956.8" stroke="#111" stroke-width="1.1"/>
<text x="68.4" y="960.1" class="tk" text-anchor="end">0</text>
<line x1="74.0" y1="937.1" x2="78.0" y2="937.1" stroke="#111" stroke-width="1.1"/>
<line x1="74.0" y1="917.4" x2="78.0" y2="917.4" stroke="#111" stroke-width="1.1"/>
<text x="68.4" y="920.7" class="tk" text-anchor="end">10</text>
<line x1="74.0" y1="897.7" x2="78.0" y2="897.7" stroke="#111" stroke-width="1.1"/>
<line x1="74.0" y1="878.0" x2="78.0" y2="878.0" stroke="#111" stroke-width="1.1"/>
<text x="68.4" y="881.3" class="tk" text-anchor="end">20</text>
<line x1="74.0" y1="858.3" x2="78.0" y2="858.3" stroke="#111" stroke-width="1.1"/>
<line x1="74.0" y1="838.7" x2="78.0" y2="838.7" stroke="#111" stroke-width="1.1"/>
<text x="68.4" y="842.0" class="tk" text-anchor="end">30</text>
<line x1="74.0" y1="819.0" x2="78.0" y2="819.0" stroke="#111" stroke-width="1.1"/>
<line x1="74.0" y1="799.3" x2="78.0" y2="799.3" stroke="#111" stroke-width="1.1"/>
<text x="68.4" y="802.6" class="tk" text-anchor="end">40</text>
<line x1="74.0" y1="779.6" x2="78.0" y2="779.6" stroke="#111" stroke-width="1.1"/>
<line x1="74.0" y1="759.9" x2="78.0" y2="759.9" stroke="#111" stroke-width="1.1"/>
<text x="68.4" y="763.2" class="tk" text-anchor="end">50</text>
<line x1="74.0" y1="740.2" x2="78.0" y2="740.2" stroke="#111" stroke-width="1.1"/>
<line x1="74.0" y1="720.5" x2="78.0" y2="720.5" stroke="#111" stroke-width="1.1"/>
<text x="68.4" y="723.8" class="tk" text-anchor="end">60</text>
<line x1="74.0" y1="700.8" x2="78.0" y2="700.8" stroke="#111" stroke-width="1.1"/>
<line x1="74.0" y1="681.1" x2="78.0" y2="681.1" stroke="#111" stroke-width="1.1"/>
<text x="68.4" y="684.4" class="tk" text-anchor="end">70</text>
<line x1="74.0" y1="661.5" x2="78.0" y2="661.5" stroke="#111" stroke-width="1.1"/>
<line x1="74.0" y1="641.8" x2="78.0" y2="641.8" stroke="#111" stroke-width="1.1"/>
<text x="68.4" y="645.1" class="tk" text-anchor="end">80</text>
<line x1="74.0" y1="622.1" x2="78.0" y2="622.1" stroke="#111" stroke-width="1.1"/>
<line x1="74.0" y1="602.4" x2="78.0" y2="602.4" stroke="#111" stroke-width="1.1"/>
<text x="68.4" y="605.7" class="tk" text-anchor="end">90</text>
<line x1="74.0" y1="582.7" x2="78.0" y2="582.7" stroke="#111" stroke-width="1.1"/>
<line x1="74.0" y1="563.0" x2="78.0" y2="563.0" stroke="#111" stroke-width="1.1"/>
<text x="68.4" y="566.3" class="tk" text-anchor="end">100</text>
<line x1="76.0" y1="956.8" x2="76.0" y2="959.8" stroke="#111" stroke-width="1.2"/>
<text x="74.5" y="965.8" class="tk" text-anchor="middle">503</text>
<line x1="155.7" y1="956.8" x2="155.7" y2="959.8" stroke="#111" stroke-width="1.2"/>
<line x1="235.5" y1="956.8" x2="235.5" y2="959.8" stroke="#111" stroke-width="1.2"/>
<text x="234.0" y="965.8" class="tk" text-anchor="middle">790</text>
<line x1="315.2" y1="956.8" x2="315.2" y2="959.8" stroke="#111" stroke-width="1.2"/>
<line x1="395.0" y1="956.8" x2="395.0" y2="959.8" stroke="#111" stroke-width="1.2"/>
<text x="393.5" y="965.8" class="tk" text-anchor="middle">1077</text>
<line x1="474.7" y1="956.8" x2="474.7" y2="959.8" stroke="#111" stroke-width="1.2"/>
<line x1="554.4" y1="956.8" x2="554.4" y2="959.8" stroke="#111" stroke-width="1.2"/>
<text x="552.9" y="965.8" class="tk" text-anchor="middle">1364</text>
<line x1="634.2" y1="956.8" x2="634.2" y2="959.8" stroke="#111" stroke-width="1.2"/>
<line x1="713.9" y1="956.8" x2="713.9" y2="959.8" stroke="#111" stroke-width="1.2"/>
<text x="712.4" y="965.8" class="tk" text-anchor="middle">1651</text>
<line x1="793.7" y1="956.8" x2="793.7" y2="959.8" stroke="#111" stroke-width="1.2"/>
<line x1="873.4" y1="956.8" x2="873.4" y2="959.8" stroke="#111" stroke-width="1.2"/>
<text x="871.9" y="965.8" class="tk" text-anchor="middle">1938</text>
<text x="878.4" y="562.0" class="tk">1.3E+4</text>
<text x="878.4" y="959.8" class="tk">0</text>
<text class="pl" transform="translate(96.5 601.0) rotate(-90)">524.0696</text>
<text class="pl" transform="translate(186.2 566.6) rotate(-90)">685.1062</text>
<text class="pl" transform="translate(275.5 750.8) rotate(-90)">846.1368</text>
<text class="pl" transform="translate(388.1 916.1) rotate(-90)">1049.1443</text>
<text class="tt" transform="translate(763.6 600.2) scale(1.000 1)">(B)</text>
<text class="ax" style="letter-spacing:0.45px" transform="translate(41.8 808.9) rotate(-90)">% Intensity</text>
<text class="ax" transform="translate(451.2 990.0) scale(1.055 1)">Mass (m/z)</text>
</svg>
</body></html>
